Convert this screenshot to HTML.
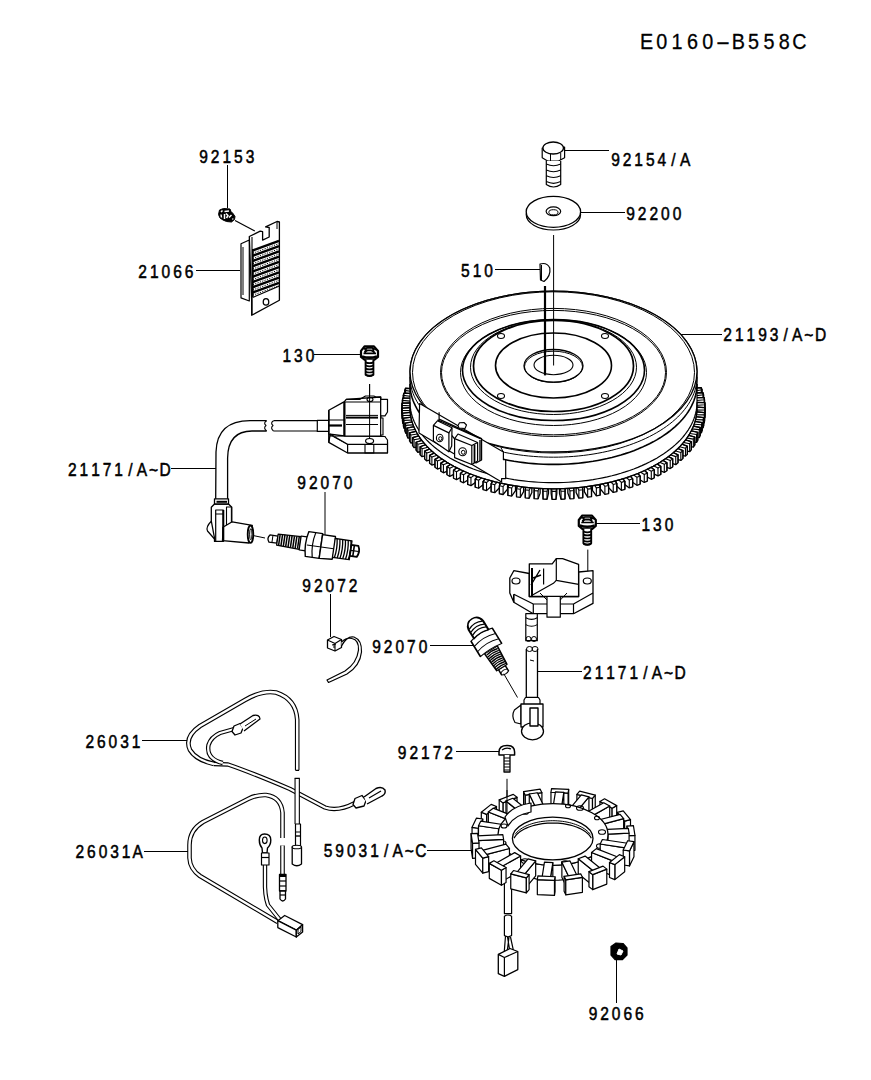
<!DOCTYPE html>
<html><head><meta charset="utf-8"><style>
html,body{margin:0;padding:0;background:#fff;width:871px;height:1080px;overflow:hidden}
svg{position:absolute;left:0;top:0}
text{font-family:"Liberation Sans",sans-serif;fill:#000}
</style></head><body>
<svg width="871" height="1080" viewBox="0 0 871 1080" stroke="#000" fill="none" stroke-linejoin="round" stroke-linecap="butt">
<g stroke="none">
</g>
<text transform="scale(0.92,1)" x="702.72 719.35 735.98 752.61 769.24 785.87 802.50 819.13 835.76 852.39 869.02" y="48.8" font-size="21.5" text-anchor="middle" stroke="#000" stroke-width="0.3">E0160–B558C</text>
<text transform="scale(0.84,1)" x="242.38 256.19 270.00 283.81 297.62" y="163" font-size="18.5" text-anchor="middle" stroke="#000" stroke-width="0.55">92153</text>
<text transform="scale(0.84,1)" x="732.74 746.55 760.36 774.17 787.98 801.79 815.60" y="165.7" font-size="18.5" text-anchor="middle" stroke="#000" stroke-width="0.55">92154/A</text>
<text transform="scale(0.84,1)" x="750.71 764.52 778.33 792.14 805.95" y="220" font-size="18.5" text-anchor="middle" stroke="#000" stroke-width="0.55">92200</text>
<text transform="scale(0.84,1)" x="169.88 183.69 197.50 211.31 225.12" y="278" font-size="18.5" text-anchor="middle" stroke="#000" stroke-width="0.55">21066</text>
<text transform="scale(0.84,1)" x="554.05 567.86 581.67" y="276.8" font-size="18.5" text-anchor="middle" stroke="#000" stroke-width="0.55">510</text>
<text transform="scale(0.84,1)" x="866.31 880.12 893.93 907.74 921.55 935.36 949.17 962.98 976.79" y="341.5" font-size="18.5" text-anchor="middle" stroke="#000" stroke-width="0.55">21193/A~D</text>
<text transform="scale(0.84,1)" x="341.43 355.24 369.05" y="362" font-size="18.5" text-anchor="middle" stroke="#000" stroke-width="0.55">130</text>
<text transform="scale(0.84,1)" x="86.07 99.88 113.69 127.50 141.31 155.12 168.93 182.74 196.55" y="475.8" font-size="18.5" text-anchor="middle" stroke="#000" stroke-width="0.55">21171/A~D</text>
<text transform="scale(0.84,1)" x="359.17 372.98 386.79 400.60 414.40" y="489" font-size="18.5" text-anchor="middle" stroke="#000" stroke-width="0.55">92070</text>
<text transform="scale(0.84,1)" x="768.81 782.62 796.43" y="531" font-size="18.5" text-anchor="middle" stroke="#000" stroke-width="0.55">130</text>
<text transform="scale(0.84,1)" x="365.12 378.93 392.74 406.55 420.36" y="592" font-size="18.5" text-anchor="middle" stroke="#000" stroke-width="0.55">92072</text>
<text transform="scale(0.84,1)" x="448.33 462.14 475.95 489.76 503.57" y="653" font-size="18.5" text-anchor="middle" stroke="#000" stroke-width="0.55">92070</text>
<text transform="scale(0.84,1)" x="699.29 713.10 726.90 740.71 754.52 768.33 782.14 795.95 809.76" y="679" font-size="18.5" text-anchor="middle" stroke="#000" stroke-width="0.55">21171/A~D</text>
<text transform="scale(0.84,1)" x="106.79 120.60 134.40 148.21 162.02" y="747.6" font-size="18.5" text-anchor="middle" stroke="#000" stroke-width="0.55">26031</text>
<text transform="scale(0.84,1)" x="478.81 492.62 506.43 520.24 534.05" y="758.7" font-size="18.5" text-anchor="middle" stroke="#000" stroke-width="0.55">92172</text>
<text transform="scale(0.84,1)" x="95.00 108.81 122.62 136.43 150.24 164.05" y="858.5" font-size="18.5" text-anchor="middle" stroke="#000" stroke-width="0.55">26031A</text>
<text transform="scale(0.84,1)" x="390.60 404.40 418.21 432.02 445.83 459.64 473.45 487.26 501.07" y="857.2" font-size="18.5" text-anchor="middle" stroke="#000" stroke-width="0.55">59031/A~C</text>
<text transform="scale(0.84,1)" x="705.95 719.76 733.57 747.38 761.19" y="1019.7" font-size="18.5" text-anchor="middle" stroke="#000" stroke-width="0.55">92066</text>
<line x1="227.5" y1="165" x2="227.5" y2="208" stroke-width="1"/>
<line x1="609" y1="150.5" x2="565" y2="150.5" stroke-width="1"/>
<line x1="625" y1="212.5" x2="580" y2="212.5" stroke-width="1"/>
<line x1="196" y1="270.5" x2="240" y2="270.5" stroke-width="1"/>
<line x1="495" y1="269.5" x2="540" y2="269.5" stroke-width="1"/>
<line x1="722" y1="334.5" x2="677" y2="334.5" stroke-width="1"/>
<line x1="314" y1="354.5" x2="362" y2="354.5" stroke-width="1"/>
<line x1="171" y1="468.5" x2="216" y2="468.5" stroke-width="1"/>
<line x1="325" y1="492" x2="325" y2="536" stroke-width="1"/>
<line x1="640" y1="523.5" x2="595" y2="523.5" stroke-width="1"/>
<line x1="330.5" y1="594" x2="330.5" y2="637" stroke-width="1"/>
<line x1="430" y1="645.5" x2="475" y2="645.5" stroke-width="1"/>
<line x1="582" y1="671.5" x2="538" y2="671.5" stroke-width="1"/>
<line x1="142" y1="740.5" x2="187" y2="740.5" stroke-width="1"/>
<line x1="456" y1="751.5" x2="500" y2="751.5" stroke-width="1"/>
<line x1="144" y1="851.5" x2="189" y2="851.5" stroke-width="1"/>
<line x1="427" y1="850.5" x2="472" y2="850.5" stroke-width="1"/>
<line x1="616.5" y1="958" x2="616.5" y2="1003" stroke-width="1"/>
<polygon points="690.75,388.42 701.22,387.66 702.04,389.82 702.04,397.82 691.94,399.53 690.75,396.42" stroke-width="1.3" fill="#fff" />
<polyline points="690.75,388.42 701.22,387.66 702.04,389.82 691.94,391.53" stroke-width="1.1" fill="none" />
<polyline points="701.22,387.66 701.22,395.66" stroke-width="1.1" fill="none" />
<polyline points="702.04,389.82 702.04,397.82" stroke-width="1.1" fill="none" />
<polygon points="404.75,390.40 405.55,388.23 416.03,388.95 416.03,396.95 414.88,400.06 404.75,398.40" stroke-width="1.3" fill="#fff" />
<polyline points="414.88,392.06 404.75,390.40 405.55,388.23 416.03,388.95" stroke-width="1.1" fill="none" />
<polyline points="404.75,390.40 404.75,398.40" stroke-width="1.1" fill="none" />
<polyline points="405.55,388.23 405.55,396.23" stroke-width="1.1" fill="none" />
<polygon points="692.42,393.00 702.95,392.59 703.55,394.78 703.55,402.78 693.28,404.15 692.42,401.00" stroke-width="1.3" fill="#fff" />
<polyline points="692.42,393.00 702.95,392.59 703.55,394.78 693.28,396.15" stroke-width="1.1" fill="none" />
<polyline points="702.95,392.59 702.95,400.59" stroke-width="1.1" fill="none" />
<polyline points="703.55,394.78 703.55,402.78" stroke-width="1.1" fill="none" />
<polygon points="403.31,395.36 403.88,393.17 414.41,393.54 414.41,401.54 413.59,404.69 403.31,403.36" stroke-width="1.3" fill="#fff" />
<polyline points="413.59,396.69 403.31,395.36 403.88,393.17 414.41,393.54" stroke-width="1.1" fill="none" />
<polyline points="403.31,395.36 403.31,403.36" stroke-width="1.1" fill="none" />
<polyline points="403.88,393.17 403.88,401.17" stroke-width="1.1" fill="none" />
<polygon points="693.61,397.63 704.16,397.57 704.52,399.78 704.52,407.78 694.13,408.80 693.61,405.63" stroke-width="1.3" fill="#fff" />
<polyline points="693.61,397.63 704.16,397.57 704.52,399.78 694.13,400.80" stroke-width="1.1" fill="none" />
<polyline points="704.16,397.57 704.16,405.57" stroke-width="1.1" fill="none" />
<polyline points="704.52,399.78 704.52,407.78" stroke-width="1.1" fill="none" />
<polygon points="402.40,400.36 402.73,398.16 413.29,398.18 413.29,406.18 412.80,409.35 402.40,408.36" stroke-width="1.3" fill="#fff" />
<polyline points="412.80,401.35 402.40,400.36 402.73,398.16 413.29,398.18" stroke-width="1.1" fill="none" />
<polyline points="402.40,400.36 402.40,408.36" stroke-width="1.1" fill="none" />
<polyline points="402.73,398.16 402.73,406.16" stroke-width="1.1" fill="none" />
<polygon points="694.30,402.30 704.84,402.59 704.97,404.80 704.97,412.80 694.49,413.48 694.30,410.30" stroke-width="1.3" fill="#fff" />
<polyline points="694.30,402.30 704.84,402.59 704.97,404.80 694.49,405.48" stroke-width="1.1" fill="none" />
<polyline points="704.84,402.59 704.84,410.59" stroke-width="1.1" fill="none" />
<polyline points="704.97,404.80 704.97,412.80" stroke-width="1.1" fill="none" />
<polygon points="402.01,405.39 402.12,403.17 412.65,402.84 412.65,410.84 412.50,414.02 402.01,413.39" stroke-width="1.3" fill="#fff" />
<polyline points="412.50,406.02 402.01,405.39 402.12,403.17 412.65,402.84" stroke-width="1.1" fill="none" />
<polyline points="402.01,405.39 402.01,413.39" stroke-width="1.1" fill="none" />
<polyline points="402.12,403.17 402.12,411.17" stroke-width="1.1" fill="none" />
<polygon points="694.35,410.16 694.50,406.98 704.99,407.61 704.99,415.61 704.88,417.83 694.35,418.16" stroke-width="1.3" fill="#fff" />
<polyline points="694.50,406.98 704.99,407.61 704.88,409.83 694.35,410.16" stroke-width="1.1" fill="none" />
<polyline points="704.99,407.61 704.99,415.61" stroke-width="1.1" fill="none" />
<polyline points="704.88,409.83 704.88,417.83" stroke-width="1.1" fill="none" />
<polygon points="402.03,408.20 412.51,407.52 412.70,410.70 412.70,418.70 402.16,418.41 402.03,416.20" stroke-width="1.3" fill="#fff" />
<polyline points="412.70,410.70 402.16,410.41 402.03,408.20 412.51,407.52" stroke-width="1.1" fill="none" />
<polyline points="402.16,410.41 402.16,418.41" stroke-width="1.1" fill="none" />
<polyline points="402.03,408.20 402.03,416.20" stroke-width="1.1" fill="none" />
<polygon points="693.71,414.82 694.20,411.65 704.60,412.64 704.60,420.64 704.27,422.84 693.71,422.82" stroke-width="1.3" fill="#fff" />
<polyline points="694.20,411.65 704.60,412.64 704.27,414.84 693.71,414.82" stroke-width="1.1" fill="none" />
<polyline points="704.60,412.64 704.60,420.64" stroke-width="1.1" fill="none" />
<polyline points="704.27,414.84 704.27,422.84" stroke-width="1.1" fill="none" />
<polygon points="402.48,413.22 412.87,412.20 413.39,415.37 413.39,423.37 402.84,423.43 402.48,421.22" stroke-width="1.3" fill="#fff" />
<polyline points="413.39,415.37 402.84,415.43 402.48,413.22 412.87,412.20" stroke-width="1.1" fill="none" />
<polyline points="402.84,415.43 402.84,423.43" stroke-width="1.1" fill="none" />
<polyline points="402.48,413.22 402.48,421.22" stroke-width="1.1" fill="none" />
<polygon points="692.59,419.46 693.41,416.31 703.69,417.64 703.69,425.64 703.12,427.83 692.59,427.46" stroke-width="1.3" fill="#fff" />
<polyline points="693.41,416.31 703.69,417.64 703.12,419.83 692.59,419.46" stroke-width="1.1" fill="none" />
<polyline points="703.69,417.64 703.69,425.64" stroke-width="1.1" fill="none" />
<polyline points="703.12,419.83 703.12,427.83" stroke-width="1.1" fill="none" />
<polygon points="403.45,418.22 413.72,416.85 414.58,420.00 414.58,428.00 404.05,428.41 403.45,426.22" stroke-width="1.3" fill="#fff" />
<polyline points="414.58,420.00 404.05,420.41 403.45,418.22 413.72,416.85" stroke-width="1.1" fill="none" />
<polyline points="404.05,420.41 404.05,428.41" stroke-width="1.1" fill="none" />
<polyline points="403.45,418.22 403.45,426.22" stroke-width="1.1" fill="none" />
<polygon points="690.97,424.05 692.12,420.94 702.25,422.60 702.25,430.60 701.45,432.77 690.97,432.05" stroke-width="1.3" fill="#fff" />
<polyline points="692.12,420.94 702.25,422.60 701.45,424.77 690.97,424.05" stroke-width="1.1" fill="none" />
<polyline points="702.25,422.60 702.25,430.60" stroke-width="1.1" fill="none" />
<polyline points="701.45,424.77 701.45,432.77" stroke-width="1.1" fill="none" />
<polygon points="404.96,423.18 415.06,421.47 416.25,424.58 416.25,432.58 405.78,433.34 404.96,431.18" stroke-width="1.3" fill="#fff" />
<polyline points="416.25,424.58 405.78,425.34 404.96,423.18 415.06,421.47" stroke-width="1.1" fill="none" />
<polyline points="405.78,425.34 405.78,433.34" stroke-width="1.1" fill="none" />
<polyline points="404.96,423.18 404.96,431.18" stroke-width="1.1" fill="none" />
<polygon points="688.87,428.58 690.35,425.51 700.28,427.51 700.28,435.51 699.25,437.65 688.87,436.58" stroke-width="1.3" fill="#fff" />
<polyline points="690.35,425.51 700.28,427.51 699.25,429.65 688.87,428.58" stroke-width="1.1" fill="none" />
<polyline points="700.28,427.51 700.28,435.51" stroke-width="1.1" fill="none" />
<polyline points="699.25,429.65 699.25,437.65" stroke-width="1.1" fill="none" />
<polygon points="406.98,428.08 416.88,426.04 418.40,429.11 418.40,437.11 408.04,438.21 406.98,436.08" stroke-width="1.3" fill="#fff" />
<polyline points="418.40,429.11 408.04,430.21 406.98,428.08 416.88,426.04" stroke-width="1.1" fill="none" />
<polyline points="408.04,430.21 408.04,438.21" stroke-width="1.1" fill="none" />
<polyline points="406.98,428.08 406.98,436.08" stroke-width="1.1" fill="none" />
<polygon points="686.30,433.03 688.10,430.02 697.80,432.34 697.80,440.34 696.55,442.44 686.30,441.03" stroke-width="1.3" fill="#fff" />
<polyline points="688.10,430.02 697.80,432.34 696.55,434.44 686.30,433.03" stroke-width="1.1" fill="none" />
<polyline points="697.80,432.34 697.80,440.34" stroke-width="1.1" fill="none" />
<polyline points="696.55,434.44 696.55,442.44" stroke-width="1.1" fill="none" />
<polygon points="409.52,432.90 419.19,430.54 421.03,433.55 421.03,441.55 410.80,442.99 409.52,440.90" stroke-width="1.3" fill="#fff" />
<polyline points="421.03,433.55 410.80,434.99 409.52,432.90 419.19,430.54" stroke-width="1.1" fill="none" />
<polyline points="410.80,434.99 410.80,442.99" stroke-width="1.1" fill="none" />
<polyline points="409.52,432.90 409.52,440.90" stroke-width="1.1" fill="none" />
<polygon points="683.26,437.39 685.38,434.44 694.81,437.08 694.81,445.08 693.34,447.14 683.26,445.39" stroke-width="1.3" fill="#fff" />
<polyline points="685.38,434.44 694.81,437.08 693.34,439.14 683.26,437.39" stroke-width="1.1" fill="none" />
<polyline points="694.81,437.08 694.81,445.08" stroke-width="1.1" fill="none" />
<polyline points="693.34,439.14 693.34,447.14" stroke-width="1.1" fill="none" />
<polygon points="412.57,437.63 421.97,434.95 424.12,437.89 424.12,445.89 414.06,447.68 412.57,445.63" stroke-width="1.3" fill="#fff" />
<polyline points="424.12,437.89 414.06,439.68 412.57,437.63 421.97,434.95" stroke-width="1.1" fill="none" />
<polyline points="414.06,439.68 414.06,447.68" stroke-width="1.1" fill="none" />
<polyline points="412.57,437.63 412.57,445.63" stroke-width="1.1" fill="none" />
<polygon points="679.76,441.64 682.19,438.77 691.33,441.72 691.33,449.72 689.64,451.72 679.76,449.64" stroke-width="1.3" fill="#fff" />
<polyline points="682.19,438.77 691.33,441.72 689.64,443.72 679.76,441.64" stroke-width="1.1" fill="none" />
<polyline points="691.33,441.72 691.33,449.72" stroke-width="1.1" fill="none" />
<polyline points="689.64,443.72 689.64,451.72" stroke-width="1.1" fill="none" />
<polygon points="416.11,442.25 425.21,439.26 427.67,442.13 427.67,450.13 417.82,452.25 416.11,450.25" stroke-width="1.3" fill="#fff" />
<polyline points="427.67,442.13 417.82,444.25 416.11,442.25 425.21,439.26" stroke-width="1.1" fill="none" />
<polyline points="417.82,444.25 417.82,452.25" stroke-width="1.1" fill="none" />
<polyline points="416.11,442.25 416.11,450.25" stroke-width="1.1" fill="none" />
<polygon points="675.82,445.77 678.55,442.98 687.36,446.23 687.36,454.23 685.47,456.17 675.82,453.77" stroke-width="1.3" fill="#fff" />
<polyline points="678.55,442.98 687.36,446.23 685.47,448.17 675.82,445.77" stroke-width="1.1" fill="none" />
<polyline points="687.36,446.23 687.36,454.23" stroke-width="1.1" fill="none" />
<polyline points="685.47,448.17 685.47,456.17" stroke-width="1.1" fill="none" />
<polygon points="420.13,446.75 428.90,443.46 431.66,446.24 431.66,454.24 422.05,456.68 420.13,454.75" stroke-width="1.3" fill="#fff" />
<polyline points="431.66,446.24 422.05,448.68 420.13,446.75 428.90,443.46" stroke-width="1.1" fill="none" />
<polyline points="422.05,448.68 422.05,456.68" stroke-width="1.1" fill="none" />
<polyline points="420.13,446.75 420.13,454.75" stroke-width="1.1" fill="none" />
<polygon points="671.46,449.76 674.47,447.06 682.92,450.60 682.92,458.60 680.83,460.47 671.46,457.76" stroke-width="1.3" fill="#fff" />
<polyline points="674.47,447.06 682.92,450.60 680.83,452.47 671.46,449.76" stroke-width="1.1" fill="none" />
<polyline points="682.92,450.60 682.92,458.60" stroke-width="1.1" fill="none" />
<polyline points="680.83,452.47 680.83,460.47" stroke-width="1.1" fill="none" />
<polygon points="424.62,451.10 433.03,447.53 436.08,450.22 436.08,458.22 426.74,460.97 424.62,459.10" stroke-width="1.3" fill="#fff" />
<polyline points="436.08,450.22 426.74,452.97 424.62,451.10 433.03,447.53" stroke-width="1.1" fill="none" />
<polyline points="426.74,452.97 426.74,460.97" stroke-width="1.1" fill="none" />
<polyline points="424.62,451.10 424.62,459.10" stroke-width="1.1" fill="none" />
<polygon points="666.67,453.60 669.97,451.00 678.03,454.82 678.03,462.82 675.74,464.62 666.67,461.60" stroke-width="1.3" fill="#fff" />
<polyline points="669.97,451.00 678.03,454.82 675.74,456.62 666.67,453.60" stroke-width="1.1" fill="none" />
<polyline points="678.03,454.82 678.03,462.82" stroke-width="1.1" fill="none" />
<polyline points="675.74,456.62 675.74,464.62" stroke-width="1.1" fill="none" />
<polygon points="429.57,455.30 437.58,451.45 440.91,454.03 440.91,462.03 431.88,465.09 429.57,463.30" stroke-width="1.3" fill="#fff" />
<polyline points="440.91,454.03 431.88,457.09 429.57,455.30 437.58,451.45" stroke-width="1.1" fill="none" />
<polyline points="431.88,457.09 431.88,465.09" stroke-width="1.1" fill="none" />
<polyline points="429.57,455.30 429.57,463.30" stroke-width="1.1" fill="none" />
<polygon points="661.49,457.27 665.06,454.79 672.70,458.86 672.70,466.86 670.22,468.59 661.49,465.27" stroke-width="1.3" fill="#fff" />
<polyline points="665.06,454.79 672.70,458.86 670.22,460.59 661.49,457.27" stroke-width="1.1" fill="none" />
<polyline points="672.70,458.86 672.70,466.86" stroke-width="1.1" fill="none" />
<polyline points="670.22,460.59 670.22,468.59" stroke-width="1.1" fill="none" />
<polygon points="434.95,459.32 442.54,455.22 446.14,457.69 446.14,465.69 437.45,469.04 434.95,467.32" stroke-width="1.3" fill="#fff" />
<polyline points="446.14,457.69 437.45,461.04 434.95,459.32 442.54,455.22" stroke-width="1.1" fill="none" />
<polyline points="437.45,461.04 437.45,469.04" stroke-width="1.1" fill="none" />
<polyline points="434.95,459.32 434.95,467.32" stroke-width="1.1" fill="none" />
<polygon points="655.93,460.76 659.75,458.41 666.95,462.73 666.95,470.73 664.30,472.36 655.93,468.76" stroke-width="1.3" fill="#fff" />
<polyline points="659.75,458.41 666.95,462.73 664.30,464.36 655.93,460.76" stroke-width="1.1" fill="none" />
<polyline points="666.95,462.73 666.95,470.73" stroke-width="1.1" fill="none" />
<polyline points="664.30,464.36 664.30,472.36" stroke-width="1.1" fill="none" />
<polygon points="440.74,463.16 447.89,458.82 451.74,461.16 451.74,469.16 443.42,472.79 440.74,471.16" stroke-width="1.3" fill="#fff" />
<polyline points="451.74,461.16 443.42,464.79 440.74,463.16 447.89,458.82" stroke-width="1.1" fill="none" />
<polyline points="443.42,464.79 443.42,472.79" stroke-width="1.1" fill="none" />
<polyline points="440.74,463.16 440.74,471.16" stroke-width="1.1" fill="none" />
<polygon points="650.01,464.06 654.07,461.84 660.81,466.39 660.81,474.39 657.98,475.94 650.01,472.06" stroke-width="1.3" fill="#fff" />
<polyline points="654.07,461.84 660.81,466.39 657.98,467.94 650.01,464.06" stroke-width="1.1" fill="none" />
<polyline points="660.81,466.39 660.81,474.39" stroke-width="1.1" fill="none" />
<polyline points="657.98,467.94 657.98,475.94" stroke-width="1.1" fill="none" />
<polygon points="446.94,466.80 453.61,462.23 457.70,464.44 457.70,472.44 449.78,476.34 446.94,474.80" stroke-width="1.3" fill="#fff" />
<polyline points="457.70,464.44 449.78,468.34 446.94,466.80 453.61,462.23" stroke-width="1.1" fill="none" />
<polyline points="449.78,468.34 449.78,476.34" stroke-width="1.1" fill="none" />
<polyline points="446.94,466.80 446.94,474.80" stroke-width="1.1" fill="none" />
<polygon points="643.75,467.17 648.04,465.08 654.28,469.84 654.28,477.84 651.30,479.30 643.75,475.17" stroke-width="1.3" fill="#fff" />
<polyline points="648.04,465.08 654.28,469.84 651.30,471.30 643.75,467.17" stroke-width="1.1" fill="none" />
<polyline points="654.28,469.84 654.28,477.84" stroke-width="1.1" fill="none" />
<polyline points="651.30,471.30 651.30,479.30" stroke-width="1.1" fill="none" />
<polygon points="453.50,470.23 459.68,465.44 464.00,467.51 464.00,475.51 456.50,479.67 453.50,478.23" stroke-width="1.3" fill="#fff" />
<polyline points="464.00,467.51 456.50,471.67 453.50,470.23 459.68,465.44" stroke-width="1.1" fill="none" />
<polyline points="456.50,471.67 456.50,479.67" stroke-width="1.1" fill="none" />
<polyline points="453.50,470.23 453.50,478.23" stroke-width="1.1" fill="none" />
<polygon points="637.18,470.05 641.68,468.11 647.40,473.08 647.40,481.08 644.27,482.43 637.18,478.05" stroke-width="1.3" fill="#fff" />
<polyline points="641.68,468.11 647.40,473.08 644.27,474.43 637.18,470.05" stroke-width="1.1" fill="none" />
<polyline points="647.40,473.08 647.40,481.08" stroke-width="1.1" fill="none" />
<polyline points="644.27,474.43 644.27,482.43" stroke-width="1.1" fill="none" />
<polygon points="460.42,473.44 466.08,468.45 470.61,470.38 470.61,478.38 463.57,482.78 460.42,481.44" stroke-width="1.3" fill="#fff" />
<polyline points="470.61,470.38 463.57,474.78 460.42,473.44 466.08,468.45" stroke-width="1.1" fill="none" />
<polyline points="463.57,474.78 463.57,482.78" stroke-width="1.1" fill="none" />
<polyline points="460.42,473.44 460.42,481.44" stroke-width="1.1" fill="none" />
<polygon points="630.31,472.72 635.01,470.93 640.20,476.08 640.20,484.08 636.93,485.32 630.31,480.72" stroke-width="1.3" fill="#fff" />
<polyline points="635.01,470.93 640.20,476.08 636.93,477.32 630.31,472.72" stroke-width="1.1" fill="none" />
<polyline points="640.20,476.08 640.20,484.08" stroke-width="1.1" fill="none" />
<polyline points="636.93,477.32 636.93,485.32" stroke-width="1.1" fill="none" />
<polygon points="467.66,476.41 472.79,471.24 477.51,473.01 477.51,481.01 470.95,485.64 467.66,484.41" stroke-width="1.3" fill="#fff" />
<polyline points="477.51,473.01 470.95,477.64 467.66,476.41 472.79,471.24" stroke-width="1.1" fill="none" />
<polyline points="470.95,477.64 470.95,485.64" stroke-width="1.1" fill="none" />
<polyline points="467.66,476.41 467.66,484.41" stroke-width="1.1" fill="none" />
<polygon points="623.17,475.15 628.05,473.52 632.68,478.83 632.68,486.83 629.29,487.96 623.17,483.15" stroke-width="1.3" fill="#fff" />
<polyline points="628.05,473.52 632.68,478.83 629.29,479.96 623.17,475.15" stroke-width="1.1" fill="none" />
<polyline points="632.68,478.83 632.68,486.83" stroke-width="1.1" fill="none" />
<polyline points="629.29,479.96 629.29,487.96" stroke-width="1.1" fill="none" />
<polygon points="475.21,479.13 479.78,473.81 484.68,475.42 484.68,483.42 478.62,488.25 475.21,487.13" stroke-width="1.3" fill="#fff" />
<polyline points="484.68,475.42 478.62,480.25 475.21,479.13 479.78,473.81" stroke-width="1.1" fill="none" />
<polyline points="478.62,480.25 478.62,488.25" stroke-width="1.1" fill="none" />
<polyline points="475.21,479.13 475.21,487.13" stroke-width="1.1" fill="none" />
<polygon points="615.78,477.34 620.83,475.88 624.89,481.33 624.89,489.33 621.38,490.35 615.78,485.34" stroke-width="1.3" fill="#fff" />
<polyline points="620.83,475.88 624.89,481.33 621.38,482.35 615.78,477.34" stroke-width="1.1" fill="none" />
<polyline points="624.89,481.33 624.89,489.33" stroke-width="1.1" fill="none" />
<polyline points="621.38,482.35 621.38,490.35" stroke-width="1.1" fill="none" />
<polygon points="483.03,481.60 487.03,476.14 492.09,477.58 492.09,485.58 486.55,490.61 483.03,489.60" stroke-width="1.3" fill="#fff" />
<polyline points="492.09,477.58 486.55,482.61 483.03,481.60 487.03,476.14" stroke-width="1.1" fill="none" />
<polyline points="486.55,482.61 486.55,490.61" stroke-width="1.1" fill="none" />
<polyline points="483.03,481.60 483.03,489.60" stroke-width="1.1" fill="none" />
<polygon points="608.18,479.28 613.37,477.99 616.85,483.57 616.85,491.57 613.24,492.47 608.18,487.28" stroke-width="1.3" fill="#fff" />
<polyline points="613.37,477.99 616.85,483.57 613.24,484.47 608.18,479.28" stroke-width="1.1" fill="none" />
<polyline points="616.85,483.57 616.85,491.57" stroke-width="1.1" fill="none" />
<polyline points="613.24,484.47 613.24,492.47" stroke-width="1.1" fill="none" />
<polygon points="491.10,483.81 494.51,478.22 499.72,479.49 499.72,487.49 494.72,492.69 491.10,491.81" stroke-width="1.3" fill="#fff" />
<polyline points="499.72,479.49 494.72,484.69 491.10,483.81 494.51,478.22" stroke-width="1.1" fill="none" />
<polyline points="494.72,484.69 494.72,492.69" stroke-width="1.1" fill="none" />
<polyline points="491.10,483.81 491.10,491.81" stroke-width="1.1" fill="none" />
<polygon points="600.38,480.97 605.70,479.85 608.59,485.53 608.59,493.53 604.89,494.31 600.38,488.97" stroke-width="1.3" fill="#fff" />
<polyline points="605.70,479.85 608.59,485.53 604.89,486.31 600.38,480.97" stroke-width="1.1" fill="none" />
<polyline points="608.59,485.53 608.59,493.53" stroke-width="1.1" fill="none" />
<polyline points="604.89,486.31 604.89,494.31" stroke-width="1.1" fill="none" />
<polygon points="499.39,485.74 502.20,480.05 507.54,481.15 507.54,489.15 503.10,494.51 499.39,493.74" stroke-width="1.3" fill="#fff" />
<polyline points="507.54,481.15 503.10,486.51 499.39,485.74 502.20,480.05" stroke-width="1.1" fill="none" />
<polyline points="503.10,486.51 503.10,494.51" stroke-width="1.1" fill="none" />
<polyline points="499.39,485.74 499.39,493.74" stroke-width="1.1" fill="none" />
<polygon points="592.42,482.39 597.85,481.45 600.13,487.22 600.13,495.22 596.36,495.87 592.42,490.39" stroke-width="1.3" fill="#fff" />
<polyline points="597.85,481.45 600.13,487.22 596.36,487.87 592.42,482.39" stroke-width="1.1" fill="none" />
<polyline points="600.13,487.22 600.13,495.22" stroke-width="1.1" fill="none" />
<polyline points="596.36,487.87 596.36,495.87" stroke-width="1.1" fill="none" />
<polygon points="507.87,487.40 510.07,481.62 515.52,482.54 515.52,490.54 511.65,496.04 507.87,495.40" stroke-width="1.3" fill="#fff" />
<polyline points="515.52,482.54 511.65,488.04 507.87,487.40 510.07,481.62" stroke-width="1.1" fill="none" />
<polyline points="511.65,488.04 511.65,496.04" stroke-width="1.1" fill="none" />
<polyline points="507.87,487.40 507.87,495.40" stroke-width="1.1" fill="none" />
<polygon points="584.33,483.55 589.85,482.79 591.51,488.63 591.51,496.63 587.67,497.15 584.33,491.55" stroke-width="1.3" fill="#fff" />
<polyline points="589.85,482.79 591.51,488.63 587.67,489.15 584.33,483.55" stroke-width="1.1" fill="none" />
<polyline points="591.51,488.63 591.51,496.63" stroke-width="1.1" fill="none" />
<polyline points="587.67,489.15 587.67,497.15" stroke-width="1.1" fill="none" />
<polygon points="516.51,488.77 518.10,482.93 523.63,483.67 523.63,491.67 520.35,497.28 516.51,496.77" stroke-width="1.3" fill="#fff" />
<polyline points="523.63,483.67 520.35,489.28 516.51,488.77 518.10,482.93" stroke-width="1.1" fill="none" />
<polyline points="520.35,489.28 520.35,497.28" stroke-width="1.1" fill="none" />
<polyline points="516.51,488.77 516.51,496.77" stroke-width="1.1" fill="none" />
<polygon points="576.12,484.44 581.71,483.86 582.76,489.74 582.76,497.74 578.87,498.14 576.12,492.44" stroke-width="1.3" fill="#fff" />
<polyline points="581.71,483.86 582.76,489.74 578.87,490.14 576.12,484.44" stroke-width="1.1" fill="none" />
<polyline points="582.76,489.74 582.76,497.74" stroke-width="1.1" fill="none" />
<polyline points="578.87,490.14 578.87,498.14" stroke-width="1.1" fill="none" />
<polygon points="525.27,489.85 526.25,483.97 531.84,484.52 531.84,492.52 529.16,498.24 525.27,497.85" stroke-width="1.3" fill="#fff" />
<polyline points="531.84,484.52 529.16,490.24 525.27,489.85 526.25,483.97" stroke-width="1.1" fill="none" />
<polyline points="529.16,490.24 529.16,498.24" stroke-width="1.1" fill="none" />
<polyline points="525.27,489.85 525.27,497.85" stroke-width="1.1" fill="none" />
<polygon points="567.84,485.05 573.48,484.66 573.90,490.57 573.90,498.57 569.98,498.84 567.84,493.05" stroke-width="1.3" fill="#fff" />
<polyline points="573.48,484.66 573.90,490.57 569.98,490.84 567.84,485.05" stroke-width="1.1" fill="none" />
<polyline points="573.90,490.57 573.90,498.57" stroke-width="1.1" fill="none" />
<polyline points="569.98,490.84 569.98,498.84" stroke-width="1.1" fill="none" />
<polygon points="534.14,490.64 534.49,484.74 540.13,485.10 540.13,493.10 538.07,498.90 534.14,498.64" stroke-width="1.3" fill="#fff" />
<polyline points="540.13,485.10 538.07,490.90 534.14,490.64 534.49,484.74" stroke-width="1.1" fill="none" />
<polyline points="538.07,490.90 538.07,498.90" stroke-width="1.1" fill="none" />
<polyline points="534.14,490.64 534.14,498.64" stroke-width="1.1" fill="none" />
<polygon points="559.50,485.39 565.17,485.19 565.17,493.19 564.97,499.10 561.03,499.24 559.50,493.39" stroke-width="1.3" fill="#fff" />
<polyline points="565.17,485.19 564.97,491.10 561.03,491.24 559.50,485.39" stroke-width="1.1" fill="none" />
<polyline points="564.97,491.10 564.97,499.10" stroke-width="1.1" fill="none" />
<polyline points="561.03,491.24 561.03,499.24" stroke-width="1.1" fill="none" />
<polygon points="542.80,485.23 548.47,485.41 548.47,493.41 547.02,499.26 543.08,499.14 542.80,493.23" stroke-width="1.3" fill="#fff" />
<polyline points="548.47,485.41 547.02,491.26 543.08,491.14 542.80,485.23" stroke-width="1.1" fill="none" />
<polyline points="547.02,491.26 547.02,499.26" stroke-width="1.1" fill="none" />
<polyline points="543.08,491.14 543.08,499.14" stroke-width="1.1" fill="none" />
<polygon points="551.15,485.45 556.83,485.44 556.83,493.44 556.00,499.33 552.05,499.34 551.15,493.45" stroke-width="1.3" fill="#fff" />
<polyline points="556.83,485.44 556.00,491.33 552.05,491.34 551.15,485.45" stroke-width="1.1" fill="none" />
<polyline points="556.00,491.33 556.00,499.33" stroke-width="1.1" fill="none" />
<polyline points="552.05,491.34 552.05,499.34" stroke-width="1.1" fill="none" />
<polygon points="410.00,371.60 410.09,368.79 410.35,365.99 410.79,363.20 411.40,360.41 412.18,357.64 413.14,354.88 414.26,352.15 415.56,349.44 417.02,346.76 418.65,344.10 420.45,341.48 422.41,338.90 424.52,336.35 426.80,333.85 429.23,331.40 431.81,328.99 434.53,326.64 437.41,324.34 440.42,322.10 443.57,319.92 446.86,317.80 450.27,315.75 453.82,313.77 457.48,311.85 461.26,310.01 465.15,308.24 469.15,306.56 473.26,304.95 477.46,303.42 481.75,301.97 486.13,300.61 490.59,299.34 495.13,298.15 499.74,297.05 504.42,296.05 509.16,295.14 513.95,294.31 518.78,293.59 523.66,292.96 528.58,292.42 533.53,291.98 538.50,291.64 543.49,291.40 548.49,291.25 553.50,291.20 558.51,291.25 563.51,291.40 568.50,291.64 573.47,291.98 578.42,292.42 583.34,292.96 588.22,293.59 593.05,294.31 597.84,295.14 602.58,296.05 607.26,297.05 611.87,298.15 616.41,299.34 620.87,300.61 625.25,301.97 629.54,303.42 633.74,304.95 637.85,306.56 641.85,308.24 645.74,310.01 649.52,311.85 653.18,313.77 656.73,315.75 660.14,317.80 663.43,319.92 666.58,322.10 669.59,324.34 672.47,326.64 675.19,328.99 677.77,331.40 680.20,333.85 682.48,336.35 684.59,338.90 686.55,341.48 688.35,344.10 689.98,346.76 691.44,349.44 692.74,352.15 693.86,354.88 694.82,357.64 695.60,360.41 696.21,363.20 696.65,365.99 696.91,368.79 697.00,371.60 697.00,408.40 696.91,411.21 696.65,414.01 696.21,416.80 695.60,419.59 694.82,422.36 693.86,425.12 692.74,427.85 691.44,430.56 689.98,433.24 688.35,435.90 686.55,438.52 684.59,441.10 682.48,443.65 680.20,446.15 677.77,448.60 675.19,451.01 672.47,453.36 669.59,455.66 666.58,457.90 663.43,460.08 660.14,462.20 656.73,464.25 653.18,466.23 649.52,468.15 645.74,469.99 641.85,471.76 637.85,473.44 633.74,475.05 629.54,476.58 625.25,478.03 620.87,479.39 616.41,480.66 611.87,481.85 607.26,482.95 602.58,483.95 597.84,484.86 593.05,485.69 588.22,486.41 583.34,487.04 578.42,487.58 573.47,488.02 568.50,488.36 563.51,488.60 558.51,488.75 553.50,488.80 548.49,488.75 543.49,488.60 538.50,488.36 533.53,488.02 528.58,487.58 523.66,487.04 518.78,486.41 513.95,485.69 509.16,484.86 504.42,483.95 499.74,482.95 495.13,481.85 490.59,480.66 486.13,479.39 481.75,478.03 477.46,476.58 473.26,475.05 469.15,473.44 465.15,471.76 461.26,469.99 457.48,468.15 453.82,466.23 450.27,464.25 446.86,462.20 443.57,460.08 440.42,457.90 437.41,455.66 434.53,453.36 431.81,451.01 429.23,448.60 426.80,446.15 424.52,443.65 422.41,441.10 420.45,438.52 418.65,435.90 417.02,433.24 415.56,430.56 414.26,427.85 413.14,425.12 412.18,422.36 411.40,419.59 410.79,416.80 410.35,414.01 410.09,411.21 410.00,408.40" stroke-width="1.2" fill="#fff" />
<polyline points="697.00,376.80 696.91,379.61 696.65,382.41 696.21,385.20 695.60,387.99 694.82,390.76 693.86,393.52 692.74,396.25 691.44,398.96 689.98,401.64 688.35,404.30 686.55,406.92 684.59,409.50 682.48,412.05 680.20,414.55 677.77,417.00 675.19,419.41 672.47,421.76 669.59,424.06 666.58,426.30 663.43,428.48 660.14,430.60 656.73,432.65 653.18,434.63 649.52,436.55 645.74,438.39 641.85,440.16 637.85,441.84 633.74,443.45 629.54,444.98 625.25,446.43 620.87,447.79 616.41,449.06 611.87,450.25 607.26,451.35 602.58,452.35 597.84,453.26 593.05,454.09 588.22,454.81 583.34,455.44 578.42,455.98 573.47,456.42 568.50,456.76 563.51,457.00 558.51,457.15 553.50,457.20 548.49,457.15 543.49,457.00 538.50,456.76 533.53,456.42 528.58,455.98 523.66,455.44 518.78,454.81 513.95,454.09 509.16,453.26 504.42,452.35 499.74,451.35 495.13,450.25 490.59,449.06 486.13,447.79 481.75,446.43 477.46,444.98 473.26,443.45 469.15,441.84 465.15,440.16 461.26,438.39 457.48,436.55 453.82,434.63 450.27,432.65 446.86,430.60 443.57,428.48 440.42,426.30 437.41,424.06 434.53,421.76 431.81,419.41 429.23,417.00 426.80,414.55 424.52,412.05 422.41,409.50 420.45,406.92 418.65,404.30 417.02,401.64 415.56,398.96 414.26,396.25 413.14,393.52 412.18,390.76 411.40,387.99 410.79,385.20 410.35,382.41 410.09,379.61 410.00,376.80" stroke-width="1" fill="none" />
<polyline points="697.00,384.00 696.91,386.81 696.65,389.61 696.21,392.40 695.60,395.19 694.82,397.96 693.86,400.72 692.74,403.45 691.44,406.16 689.98,408.84 688.35,411.50 686.55,414.12 684.59,416.70 682.48,419.25 680.20,421.75 677.77,424.20 675.19,426.61 672.47,428.96 669.59,431.26 666.58,433.50 663.43,435.68 660.14,437.80 656.73,439.85 653.18,441.83 649.52,443.75 645.74,445.59 641.85,447.36 637.85,449.04 633.74,450.65 629.54,452.18 625.25,453.63 620.87,454.99 616.41,456.26 611.87,457.45 607.26,458.55 602.58,459.55 597.84,460.46 593.05,461.29 588.22,462.01 583.34,462.64 578.42,463.18 573.47,463.62 568.50,463.96 563.51,464.20 558.51,464.35 553.50,464.40 548.49,464.35 543.49,464.20 538.50,463.96 533.53,463.62 528.58,463.18 523.66,462.64 518.78,462.01 513.95,461.29 509.16,460.46 504.42,459.55 499.74,458.55 495.13,457.45 490.59,456.26 486.13,454.99 481.75,453.63 477.46,452.18 473.26,450.65 469.15,449.04 465.15,447.36 461.26,445.59 457.48,443.75 453.82,441.83 450.27,439.85 446.86,437.80 443.57,435.68 440.42,433.50 437.41,431.26 434.53,428.96 431.81,426.61 429.23,424.20 426.80,421.75 424.52,419.25 422.41,416.70 420.45,414.12 418.65,411.50 417.02,408.84 415.56,406.16 414.26,403.45 413.14,400.72 412.18,397.96 411.40,395.19 410.79,392.40 410.35,389.61 410.09,386.81 410.00,384.00" stroke-width="1.6" fill="none" />
<polyline points="697.00,402.30 696.91,405.11 696.65,407.91 696.21,410.70 695.60,413.49 694.82,416.26 693.86,419.02 692.74,421.75 691.44,424.46 689.98,427.14 688.35,429.80 686.55,432.42 684.59,435.00 682.48,437.55 680.20,440.05 677.77,442.50 675.19,444.91 672.47,447.26 669.59,449.56 666.58,451.80 663.43,453.98 660.14,456.10 656.73,458.15 653.18,460.13 649.52,462.05 645.74,463.89 641.85,465.66 637.85,467.34 633.74,468.95 629.54,470.48 625.25,471.93 620.87,473.29 616.41,474.56 611.87,475.75 607.26,476.85 602.58,477.85 597.84,478.76 593.05,479.59 588.22,480.31 583.34,480.94 578.42,481.48 573.47,481.92 568.50,482.26 563.51,482.50 558.51,482.65 553.50,482.70 548.49,482.65 543.49,482.50 538.50,482.26 533.53,481.92 528.58,481.48 523.66,480.94 518.78,480.31 513.95,479.59 509.16,478.76 504.42,477.85 499.74,476.85 495.13,475.75 490.59,474.56 486.13,473.29 481.75,471.93 477.46,470.48 473.26,468.95 469.15,467.34 465.15,465.66 461.26,463.89 457.48,462.05 453.82,460.13 450.27,458.15 446.86,456.10 443.57,453.98 440.42,451.80 437.41,449.56 434.53,447.26 431.81,444.91 429.23,442.50 426.80,440.05 424.52,437.55 422.41,435.00 420.45,432.42 418.65,429.80 417.02,427.14 415.56,424.46 414.26,421.75 413.14,419.02 412.18,416.26 411.40,413.49 410.79,410.70 410.35,407.91 410.09,405.11 410.00,402.30" stroke-width="1.2" fill="none" />
<polyline points="697.00,408.40 696.91,411.21 696.65,414.01 696.21,416.80 695.60,419.59 694.82,422.36 693.86,425.12 692.74,427.85 691.44,430.56 689.98,433.24 688.35,435.90 686.55,438.52 684.59,441.10 682.48,443.65 680.20,446.15 677.77,448.60 675.19,451.01 672.47,453.36 669.59,455.66 666.58,457.90 663.43,460.08 660.14,462.20 656.73,464.25 653.18,466.23 649.52,468.15 645.74,469.99 641.85,471.76 637.85,473.44 633.74,475.05 629.54,476.58 625.25,478.03 620.87,479.39 616.41,480.66 611.87,481.85 607.26,482.95 602.58,483.95 597.84,484.86 593.05,485.69 588.22,486.41 583.34,487.04 578.42,487.58 573.47,488.02 568.50,488.36 563.51,488.60 558.51,488.75 553.50,488.80 548.49,488.75 543.49,488.60 538.50,488.36 533.53,488.02 528.58,487.58 523.66,487.04 518.78,486.41 513.95,485.69 509.16,484.86 504.42,483.95 499.74,482.95 495.13,481.85 490.59,480.66 486.13,479.39 481.75,478.03 477.46,476.58 473.26,475.05 469.15,473.44 465.15,471.76 461.26,469.99 457.48,468.15 453.82,466.23 450.27,464.25 446.86,462.20 443.57,460.08 440.42,457.90 437.41,455.66 434.53,453.36 431.81,451.01 429.23,448.60 426.80,446.15 424.52,443.65 422.41,441.10 420.45,438.52 418.65,435.90 417.02,433.24 415.56,430.56 414.26,427.85 413.14,425.12 412.18,422.36 411.40,419.59 410.79,416.80 410.35,414.01 410.09,411.21 410.00,408.40" stroke-width="1.2" fill="none" />
<ellipse cx="553.5" cy="371.6" rx="143.5" ry="80.4" stroke-width="1.3" fill="#fff"/>
<ellipse cx="553.5" cy="372.4" rx="141" ry="80.6" stroke-width="1" fill="none"/>
<ellipse cx="553.5" cy="372.4" rx="113" ry="64" stroke-width="1" fill="none"/>
<ellipse cx="553.5" cy="372.6" rx="112" ry="62.2" stroke-width="1" fill="none"/>
<ellipse cx="553.5" cy="372.5" rx="93" ry="53" stroke-width="1.0" fill="none"/>
<ellipse cx="553.5" cy="370.0" rx="91" ry="50.5" stroke-width="1.6" fill="none"/>
<ellipse cx="553.5" cy="367.25" rx="83" ry="47.25" stroke-width="1.0" fill="none"/>
<ellipse cx="553.5" cy="366.0" rx="80" ry="45.5" stroke-width="1.7" fill="none"/>
<ellipse cx="553.5" cy="365.5" rx="58" ry="32.5" stroke-width="1.6" fill="none"/>
<ellipse cx="553.5" cy="365.8" rx="29.5" ry="16.3" stroke-width="1.3" fill="none"/>
<ellipse cx="553.5" cy="366.8" rx="29.0" ry="15.6" stroke-width="1" fill="none"/>
<ellipse cx="553.5" cy="365.0" rx="19.5" ry="9.7" stroke-width="1.1" fill="none"/>
<ellipse cx="501" cy="336" rx="3.5" ry="2.5" stroke-width="1.1" fill="none"/>
<ellipse cx="605" cy="336" rx="3.5" ry="2.5" stroke-width="1.1" fill="none"/>
<ellipse cx="501" cy="396" rx="3.5" ry="2.5" stroke-width="1.1" fill="none"/>
<ellipse cx="605" cy="396" rx="3.5" ry="2.5" stroke-width="1.1" fill="none"/>
<line x1="553.6" y1="235" x2="553.6" y2="365.5" stroke-width="1"/>
<line x1="545" y1="286" x2="545" y2="375.4" stroke-width="2.2"/>
<polygon points="419.60,403.60 503.40,452.00 503.40,459.70 505.70,459.70 505.70,478.60 501.60,478.60 501.60,482.00 419.00,433.00" stroke-width="1.2" fill="#fff" />
<polyline points="501.00,447.80 503.40,452.00" stroke-width="1" fill="none" />
<polygon points="438.00,420.00 480.40,438.60 481.60,438.60 481.60,460.00 476.00,463.00" stroke-width="1.2" fill="#fff" />
<polyline points="439.10,412.20 439.10,419.10 481.60,438.60" stroke-width="1.2" fill="none" />
<path d="M458,425.5 L459.5,422.8 L464,422.5 L466.5,425 L465,428.5 L459,428 Z" stroke-width="1.1" fill="#fff" />
<polygon points="437.40,420.80 452.00,427.80 451.70,446.00 448.90,451.80 433.40,440.90 433.40,425.40" stroke-width="1.2" fill="#fff" />
<polyline points="433.40,425.40 448.90,432.90 452.00,427.80" stroke-width="1.2" fill="none" />
<polyline points="448.90,432.90 448.90,451.80" stroke-width="1.2" fill="none" />
<ellipse cx="439.7" cy="438" rx="3.3" ry="3.8" stroke-width="1.1" fill="none"/>
<ellipse cx="440.3" cy="438.6" rx="1.6" ry="1.9" stroke-width="1.0" fill="none"/>
<polygon points="458.00,434.00 477.60,442.50 477.60,461.00 471.80,464.50 454.60,457.60 454.60,438.60" stroke-width="1.2" fill="#fff" />
<polyline points="454.60,438.60 471.80,445.50 477.60,442.50" stroke-width="1.2" fill="none" />
<polyline points="471.80,445.50 471.80,464.50" stroke-width="1.2" fill="none" />
<polyline points="474.50,444.50 474.50,463.00" stroke-width="1.8" fill="none" />
<polyline points="480.00,440.00 480.00,461.00" stroke-width="1.4" fill="none" />
<ellipse cx="462.6" cy="451.8" rx="3.8" ry="4.0" stroke-width="1.1" fill="none"/>
<ellipse cx="463.2" cy="452.3" rx="1.8" ry="2.0" stroke-width="1.0" fill="none"/>
<path d="M542.2,148 L542.2,157.8 L548,161.2 L558,161.2 L564.6,157.8 L564.6,147 Z" stroke-width="1.2" fill="#fff" />
<ellipse cx="553.2" cy="148" rx="10.3" ry="6" stroke-width="1.3" fill="#fff"/>
<line x1="550.5" y1="154" x2="550.5" y2="161" stroke-width="1"/>
<line x1="560.7" y1="153" x2="560.7" y2="160" stroke-width="1"/>
<path d="M546.3,161 L546.3,184.5 Q553.5,189.5 560.7,184.5 L560.7,161" stroke-width="1.2" fill="#fff" />
<path d="M546.3,164 Q553.5,167.5 560.7,164" stroke-width="1.1" fill="none" />
<path d="M546.3,170 Q553.5,173.5 560.7,170" stroke-width="1.1" fill="none" />
<path d="M546.3,175.8 Q553.5,179.3 560.7,175.8" stroke-width="1.1" fill="none" />
<path d="M546.3,181.6 Q553.5,185.1 560.7,181.6" stroke-width="1.1" fill="none" />
<ellipse cx="553.4" cy="214.5" rx="27.2" ry="15.5" stroke-width="1.2" fill="#fff"/>
<ellipse cx="553.4" cy="211.8" rx="27.2" ry="15.5" stroke-width="1.3" fill="#fff"/>
<ellipse cx="553.4" cy="211.3" rx="7.3" ry="4.4" stroke-width="1.2" fill="none"/>
<ellipse cx="553.4" cy="212.3" rx="4.6" ry="2.6" stroke-width="1.0" fill="none"/>
<path d="M540,264 Q547,262 549.8,268 Q551,276 544,281.5 L540.5,280 Z" stroke-width="1.2" fill="#fff" />
<line x1="541.5" y1="265" x2="541.5" y2="280" stroke-width="1"/>
<path d="M219.5,210 L223.5,208.5 L230,209 L231,211.5 L233,213.5 L235,216.5 L234.5,219.5 L231.5,222 L226.5,221.5 L223,220 L220,218 L218.5,214.5 Z" stroke-width="1.0" fill="#000" />
<path d="M221,212 L222.5,210.5 M221,214.5 L221.5,217.5 M224.5,211.5 L229,211 M226,213.5 L228,215.5 L226.5,218 M229,217.5 L231.5,215 M232.5,218.5 L233,219.5 M224.5,214 L224.5,219" stroke-width="1.5" fill="none" stroke="#fff"/>
<line x1="235" y1="220.5" x2="254.8" y2="231" stroke-width="1.2"/>
<polygon points="241.00,243.70 249.30,240.00 249.30,301.00 241.00,297.90" stroke-width="1.2" fill="#fff" />
<polyline points="243.00,247.00 243.00,295.00" stroke-width="1.0" fill="none" />
<polygon points="249.30,236.50 260.20,231.10 262.60,231.70 262.60,240.10 269.20,237.00 269.20,227.50 265.60,226.90 277.00,221.50 279.40,222.00 279.40,300.30 251.70,315.30 251.70,301.00" stroke-width="1.3" fill="#fff" />
<line x1="252" y1="237" x2="252" y2="315" stroke-width="1.1"/>
<line x1="277" y1="222" x2="277" y2="229" stroke-width="1.0"/>
<polyline points="252.80,250.50 279.00,240.90" stroke-width="2.4" fill="none" />
<polyline points="252.80,253.20 279.00,243.60" stroke-width="1.0" fill="none" stroke-dasharray="1.2,1.3"/>
<polyline points="252.80,255.75 279.00,246.15" stroke-width="2.4" fill="none" />
<polyline points="252.80,258.45 279.00,248.85" stroke-width="1.0" fill="none" stroke-dasharray="1.2,1.3"/>
<polyline points="252.80,261.00 279.00,251.40" stroke-width="2.4" fill="none" />
<polyline points="252.80,263.70 279.00,254.10" stroke-width="1.0" fill="none" stroke-dasharray="1.2,1.3"/>
<polyline points="252.80,266.25 279.00,256.65" stroke-width="2.4" fill="none" />
<polyline points="252.80,268.95 279.00,259.35" stroke-width="1.0" fill="none" stroke-dasharray="1.2,1.3"/>
<polyline points="252.80,271.50 279.00,261.90" stroke-width="2.4" fill="none" />
<polyline points="252.80,274.20 279.00,264.60" stroke-width="1.0" fill="none" stroke-dasharray="1.2,1.3"/>
<polyline points="252.80,276.75 279.00,267.15" stroke-width="2.4" fill="none" />
<polyline points="252.80,279.45 279.00,269.85" stroke-width="1.0" fill="none" stroke-dasharray="1.2,1.3"/>
<polyline points="252.80,282.00 279.00,272.40" stroke-width="2.4" fill="none" />
<polyline points="252.80,284.70 279.00,275.10" stroke-width="1.0" fill="none" stroke-dasharray="1.2,1.3"/>
<polyline points="252.80,287.25 279.00,277.65" stroke-width="2.4" fill="none" />
<polyline points="252.80,289.95 279.00,280.35" stroke-width="1.0" fill="none" stroke-dasharray="1.2,1.3"/>
<polyline points="252.80,292.50 279.00,282.90" stroke-width="2.4" fill="none" />
<polyline points="252.80,295.20 279.00,285.60" stroke-width="1.0" fill="none" stroke-dasharray="1.2,1.3"/>
<line x1="252.8" y1="249" x2="252.8" y2="297" stroke-width="1.6"/>
<polyline points="252.60,297.50 279.40,286.00" stroke-width="1.2" fill="none" />
<ellipse cx="266" cy="301.9" rx="2.8" ry="3.2" stroke-width="1.2" fill="#fff"/>
<g transform="translate(369.5,345.9) scale(1.0)">
<path d="M-5,0.5 L4.5,0.5 L8.5,5 L8.5,11 L5,13.8 L-5,13.8 L-8.5,11 L-8.5,5 Z" stroke-width="2.2" fill="#fff" />
<path d="M-6,3 L-2,2 L3,2 L6.5,4 M-6,7.5 L6.5,7.5 M-3,2 L-4.5,7.5 M3,2 L5,7.5" stroke-width="1.6" fill="none" />
<path d="M-7.5,10.5 Q0,13 7.5,10.5" stroke-width="2.6" fill="none" />
<path d="M-5.2,6 L-2,4.5 L2,4.5 L4.5,6" stroke-width="1.8" fill="none" />
<path d="M-3.9,13.8 L-3.9,28.8 Q0,31.6 3.9,28.8 L3.9,13.8" stroke-width="1.9" fill="#fff" />
<path d="M-3.9,16.5 Q0,18.1 3.9,16.5" stroke-width="1.7" fill="none" />
<path d="M-3.9,19.6 Q0,21.200000000000003 3.9,19.6" stroke-width="1.7" fill="none" />
<path d="M-3.9,22.7 Q0,24.3 3.9,22.7" stroke-width="1.7" fill="none" />
<path d="M-3.9,25.8 Q0,27.400000000000002 3.9,25.8" stroke-width="1.7" fill="none" />
<path d="M-3.9,28.9 Q0,30.5 3.9,28.9" stroke-width="1.7" fill="none" />
</g>
<line x1="369.6" y1="384" x2="369.6" y2="441" stroke-width="1"/>
<path d="M273.5,420.7 L317.3,420.7 M273.5,431 L317.3,431" stroke-width="1.2" fill="none" />
<path d="M273.5,420.7 Q270,423 273,425.5 Q270,428 273.5,431" stroke-width="1.1" fill="none" />
<path d="M266.6,420.7 Q263,423 266,425.5 Q263,428 266.6,431" stroke-width="1.1" fill="none" />
<path d="M266.6,420.7 L250,420.7 Q217,420.7 216,452 L215.7,499" stroke-width="1.3" fill="none" />
<path d="M266.6,431 L252,431 Q228,431 227.6,458 L227.6,499" stroke-width="1.3" fill="none" />
<polygon points="317.30,420.40 328.80,420.40 328.80,431.40 317.30,431.40" stroke-width="1.2" fill="#fff" />
<polygon points="330.20,434.20 347.60,444.30 387.50,444.30 387.50,442.40 384.80,436.50 330.20,434.20" stroke-width="1.2" fill="#fff" />
<polygon points="328.80,410.30 344.40,401.60 346.20,399.30 380.70,397.00 380.70,436.00 344.40,436.00 330.20,434.20 328.80,442.40 347.60,453.00 387.50,453.00 387.50,444.30 347.60,444.30 328.80,434.00" stroke-width="1.3" fill="#fff" />
<polygon points="330.20,434.20 347.60,444.30 387.50,444.30 387.50,440.00 384.80,436.50 330.20,436.00" stroke-width="1.2" fill="#fff" />
<line x1="347.6" y1="444.3" x2="347.6" y2="453" stroke-width="1.2"/>
<line x1="328.8" y1="410.3" x2="328.8" y2="442.4" stroke-width="1.4"/>
<polygon points="344.40,402.00 380.70,402.00 380.70,436.00 344.40,436.00" stroke-width="1.2" fill="#fff" />
<line x1="344.4" y1="402" x2="344.4" y2="436" stroke-width="2.2"/>
<polyline points="346.20,399.30 360.00,399.30 365.50,396.00 373.80,396.00 376.00,397.00 380.70,397.00 380.70,402.00" stroke-width="1.2" fill="none" />
<line x1="346" y1="415.4" x2="378" y2="415.4" stroke-width="1.0"/>
<line x1="346" y1="417.6" x2="378" y2="417.6" stroke-width="2.0"/>
<line x1="346" y1="424.5" x2="378" y2="424.5" stroke-width="1.0"/>
<line x1="329" y1="425.5" x2="342" y2="425.5" stroke-width="2.2"/>
<line x1="329" y1="420" x2="344" y2="420" stroke-width="1"/>
<polygon points="380.70,399.30 387.50,399.30 387.50,412.00 385.00,415.80 380.70,415.80" stroke-width="1.2" fill="#fff" />
<polygon points="380.70,418.00 383.00,418.00 383.00,435.00 380.70,435.00" stroke-width="1.1" fill="#fff" />
<line x1="369.6" y1="384" x2="369.6" y2="441" stroke-width="1"/>
<ellipse cx="369.6" cy="441" rx="4" ry="2.5" stroke-width="1.2" fill="#fff"/>
<polyline points="365.00,444.30 365.00,453.00 373.80,453.00 373.80,444.30" stroke-width="1.1" fill="none" />
<ellipse cx="370" cy="399.5" rx="3" ry="2" stroke-width="1.1" fill="none"/>
<path d="M211.5,521 Q205.5,527 207.5,531 L214.5,539 L216,521 Z" stroke-width="1.2" fill="#fff" />
<polygon points="211.30,507.30 214.50,504.00 228.50,504.00 231.80,507.30 231.80,523.00 226.00,528.00 216.00,541.40 214.50,541.40 214.50,538.00 211.30,521.00" stroke-width="1.3" fill="#fff" />
<polygon points="214.50,498.80 228.50,498.80 228.50,504.00 214.50,504.00" stroke-width="1.3" fill="#fff" />
<line x1="216.5" y1="501.8" x2="227" y2="501.8" stroke-width="2.0"/>
<polygon points="215.70,510.00 223.30,510.00 223.30,541.40 215.70,541.40" stroke-width="1.2" fill="#fff" />
<line x1="223.3" y1="510" x2="223.3" y2="541.4" stroke-width="2.0"/>
<line x1="215.7" y1="514" x2="223.3" y2="514" stroke-width="1.0"/>
<polygon points="226.50,507.00 231.40,507.00 231.40,526.20 226.50,526.20" stroke-width="1.1" fill="#fff" />
<path d="M223.3,527 L232.2,521.8 L252.3,525.4 L249,543 L222.5,540.6 Z" stroke-width="1.3" fill="#fff" />
<line x1="223.3" y1="541" x2="223.3" y2="527" stroke-width="2.0"/>
<ellipse cx="250.5" cy="534.2" rx="2.8" ry="8.6" stroke-width="1.8" fill="#fff"/>
<ellipse cx="250.8" cy="534.2" rx="1.2" ry="5.5" stroke-width="1.0" fill="none"/>
<path d="M253,535.5 L265,538" stroke-width="1.0" fill="none" />
<g transform="translate(267.5,538.2) rotate(8.3) scale(1.0,1)">
<path d="M2,-3.6 L10,-3.6 L10,3.6 L2,3.6 Q-1,0 2,-3.6 Z" stroke-width="1.3" fill="#fff" />
<line x1="5" y1="-3.6" x2="5" y2="3.6" stroke-width="1.0"/>
<path d="M10,-5.5 L33,-6.5 L33,6.5 L10,5.5 Z" stroke-width="1.3" fill="#fff" />
<line x1="12.0" y1="-6" x2="12.0" y2="6" stroke-width="1.5"/>
<line x1="14.4" y1="-6" x2="14.4" y2="6" stroke-width="1.5"/>
<line x1="16.8" y1="-6" x2="16.8" y2="6" stroke-width="1.5"/>
<line x1="19.2" y1="-6" x2="19.2" y2="6" stroke-width="1.5"/>
<line x1="21.6" y1="-6" x2="21.6" y2="6" stroke-width="1.5"/>
<line x1="24.0" y1="-6" x2="24.0" y2="6" stroke-width="1.5"/>
<line x1="26.4" y1="-6" x2="26.4" y2="6" stroke-width="1.5"/>
<line x1="28.8" y1="-6" x2="28.8" y2="6" stroke-width="1.5"/>
<line x1="31.2" y1="-6" x2="31.2" y2="6" stroke-width="1.5"/>
<path d="M33,-7 L41,-7 L41,7 L33,7 Z" stroke-width="1.2" fill="#fff" />
<path d="M40,-12.5 L54,-12.5 L54,12.5 L40,12.5 Q37,0 40,-12.5 Z" stroke-width="1.4" fill="#fff" />
<path d="M54,-11.5 L67,-11.5 Q69,0 67,11.5 L54,12.5 Z" stroke-width="1.4" fill="#fff" />
<path d="M47,-12.5 Q44,0 47,12.5" stroke-width="1.2" fill="none" />
<line x1="40" y1="1" x2="67" y2="1" stroke-width="1.0"/>
<path d="M67,-9.5 L84,-9.5 L84,9.5 L67,9.5 Z" stroke-width="1.3" fill="#fff" />
<path d="M69.0,-9.5 Q70.8,0 69.0,9.5" stroke-width="1.3" fill="none" />
<path d="M71.8,-9.5 Q73.6,0 71.8,9.5" stroke-width="1.3" fill="none" />
<path d="M74.6,-9.5 Q76.39999999999999,0 74.6,9.5" stroke-width="1.3" fill="none" />
<path d="M77.4,-9.5 Q79.2,0 77.4,9.5" stroke-width="1.3" fill="none" />
<path d="M80.2,-9.5 Q82.0,0 80.2,9.5" stroke-width="1.3" fill="none" />
<path d="M83.0,-9.5 Q84.8,0 83.0,9.5" stroke-width="1.3" fill="none" />
<path d="M84,-5.6 L91,-5.6 Q94,0 91,5.6 L84,5.6 Z" stroke-width="1.8" fill="#fff" />
<line x1="87" y1="-5.6" x2="87" y2="5.6" stroke-width="1.6"/>
<line x1="84" y1="0" x2="92" y2="0" stroke-width="1.2"/>
</g>
<path d="M327.5,640 L334,636.5 L341.5,639.5 L341.5,647.5 L335,651 L327.5,648 Z" stroke-width="1.3" fill="#fff" />
<path d="M327.5,640 L335,643.5 L341.5,639.5 M335,643.5 L335,651" stroke-width="1.1" fill="none" />
<path d="M332,645 L336,644 M334,644 L334,648" stroke-width="1.0" fill="none" />
<path d="M341.5,642 Q347,637 352,638.5 Q359,640 358.5,650 Q357,663 345,671 L327,680 L328.5,682.5 L347,674 Q360,666 361.5,652 Q362,640 354,637 Q347,635.5 341.5,646" stroke-width="1.2" fill="#fff" />
<g transform="translate(587.3,515) scale(1.0)">
<path d="M-5,0.5 L4.5,0.5 L8.5,5 L8.5,11 L5,13.8 L-5,13.8 L-8.5,11 L-8.5,5 Z" stroke-width="2.2" fill="#fff" />
<path d="M-6,3 L-2,2 L3,2 L6.5,4 M-6,7.5 L6.5,7.5 M-3,2 L-4.5,7.5 M3,2 L5,7.5" stroke-width="1.6" fill="none" />
<path d="M-7.5,10.5 Q0,13 7.5,10.5" stroke-width="2.6" fill="none" />
<path d="M-5.2,6 L-2,4.5 L2,4.5 L4.5,6" stroke-width="1.8" fill="none" />
<path d="M-3.9,13.8 L-3.9,28.3 Q0,31.1 3.9,28.3 L3.9,13.8" stroke-width="1.9" fill="#fff" />
<path d="M-3.9,16.5 Q0,18.1 3.9,16.5" stroke-width="1.7" fill="none" />
<path d="M-3.9,19.6 Q0,21.200000000000003 3.9,19.6" stroke-width="1.7" fill="none" />
<path d="M-3.9,22.7 Q0,24.3 3.9,22.7" stroke-width="1.7" fill="none" />
<path d="M-3.9,25.8 Q0,27.400000000000002 3.9,25.8" stroke-width="1.7" fill="none" />
<path d="M-3.9,28.9 Q0,30.5 3.9,28.9" stroke-width="1.7" fill="none" />
</g>
<line x1="587.8" y1="549.6" x2="587.8" y2="581" stroke-width="1"/>
<polygon points="509.80,578.00 513.80,570.70 529.30,573.50 529.30,596.50 578.60,596.50 578.60,572.00 593.00,570.70 593.00,603.40 573.50,613.70 533.30,613.70 513.80,602.20 509.80,593.00" stroke-width="1.3" fill="#fff" />
<polyline points="513.80,594.20 533.30,604.00 573.50,604.00 593.00,593.00" stroke-width="1.2" fill="none" />
<line x1="533.3" y1="604" x2="533.3" y2="613.7" stroke-width="1.2"/>
<line x1="573.5" y1="604" x2="573.5" y2="613.7" stroke-width="1.2"/>
<line x1="513.8" y1="594.2" x2="513.8" y2="602.2" stroke-width="1.6"/>
<ellipse cx="516" cy="581" rx="4" ry="3" stroke-width="1.2" fill="#fff"/>
<ellipse cx="587.3" cy="581" rx="4" ry="3" stroke-width="1.2" fill="#fff"/>
<polygon points="529.30,563.80 552.20,563.80 556.30,558.60 562.60,558.60 578.60,564.40 578.60,596.50 529.30,596.50" stroke-width="1.3" fill="#fff" />
<polyline points="556.30,558.60 556.30,580.40 578.60,584.40" stroke-width="1.2" fill="none" />
<polyline points="556.30,580.40 553.40,583.30 532.10,595.30" stroke-width="1.2" fill="none" />
<line x1="543.6" y1="568.4" x2="543.6" y2="584.4" stroke-width="1.2"/>
<line x1="532" y1="568" x2="532" y2="596" stroke-width="2.0"/>
<path d="M531,585 L540,570 M533,578 L541,575" stroke-width="1.4" fill="none" />
<polygon points="547.00,596.50 547.00,617.20 560.30,617.20 560.30,596.50" stroke-width="1.2" fill="#fff" />
<line x1="540" y1="593" x2="547" y2="600" stroke-width="1.0"/>
<line x1="567" y1="593" x2="560.3" y2="600" stroke-width="1.0"/>
<polygon points="525.80,613.70 537.30,613.70 537.30,640.70 525.80,640.70" stroke-width="1.2" fill="#fff" />
<path d="M525.8,617.7 Q531.5,621 537.3,617.7 M525.8,624.6 Q531.5,628 537.3,624.6" stroke-width="1.1" fill="none" />
<ellipse cx="528.5" cy="639" rx="2.5" ry="2.5" stroke-width="1.0" fill="none"/>
<ellipse cx="534" cy="639" rx="2.5" ry="2.5" stroke-width="1.0" fill="none"/>
<polyline points="526.30,649.00 526.30,697.50 537.50,697.50 537.50,649.00" stroke-width="1.3" fill="#fff" />
<ellipse cx="529.5" cy="649" rx="3" ry="2.5" stroke-width="1.0" fill="none"/>
<ellipse cx="535" cy="649" rx="3" ry="2.5" stroke-width="1.0" fill="none"/>
<path d="M530,660 L534,661" stroke-width="1.0" fill="none" />
<polygon points="525.50,697.50 538.50,697.50 540.00,700.00 540.00,705.00 524.00,705.00 524.00,700.00" stroke-width="1.2" fill="#fff" />
<path d="M514.4,710 Q511,716 515,722.5 L521,724 L521,705 Z" stroke-width="1.2" fill="#fff" />
<polygon points="521.00,704.00 543.00,704.00 543.00,727.00 521.00,727.00" stroke-width="1.3" fill="#fff" />
<ellipse cx="532.5" cy="731.3" rx="11" ry="8.5" stroke-width="1.3" fill="#fff"/>
<polygon points="530.00,708.00 538.00,708.00 538.00,726.00 530.00,726.00" stroke-width="1.4" fill="#fff" />
<g transform="translate(505.5,673.5) rotate(238.4) scale(0.69,1)">
<path d="M1,-4 L10,-4 L10,4 L1,4 Q-2,0 1,-4 Z" stroke-width="1.5" fill="#fff" />
<path d="M4,-4 Q7,0 4,4" stroke-width="1.3" fill="none" />
<path d="M10,-6 L40,-7.5 L40,7.5 L10,6 Z" stroke-width="1.5" fill="#fff" />
<path d="M12.0,-6.5 Q14.5,0 12.0,6.5" stroke-width="1.8" fill="none" />
<path d="M15.1,-6.5 Q17.6,0 15.1,6.5" stroke-width="1.8" fill="none" />
<path d="M18.2,-6.5 Q20.7,0 18.2,6.5" stroke-width="1.8" fill="none" />
<path d="M21.3,-6.5 Q23.8,0 21.3,6.5" stroke-width="1.8" fill="none" />
<path d="M24.4,-6.5 Q26.9,0 24.4,6.5" stroke-width="1.8" fill="none" />
<path d="M27.5,-6.5 Q30.0,0 27.5,6.5" stroke-width="1.8" fill="none" />
<path d="M30.6,-6.5 Q33.1,0 30.6,6.5" stroke-width="1.8" fill="none" />
<path d="M33.7,-6.5 Q36.2,0 33.7,6.5" stroke-width="1.8" fill="none" />
<path d="M36.8,-6.5 Q39.3,0 36.8,6.5" stroke-width="1.8" fill="none" />
<path d="M40,-12.5 L66,-12.5 Q72,0 66,12.5 L40,12.5 Q43,0 40,-12.5 Z" stroke-width="1.6" fill="#fff" />
<path d="M48,-12.5 Q54,0 48,12.5 M57,-12.5 Q63,0 57,12.5" stroke-width="1.4" fill="none" />
<path d="M67,-8.5 L82,-8.5 Q93,-7 93,0 Q93,7 82,8.5 L67,8.5 Q71,0 67,-8.5 Z" stroke-width="2.0" fill="#fff" />
<path d="M72,-8 Q78,0 72,8" stroke-width="1.6" fill="none" />
<path d="M77,-8 Q83,0 77,8" stroke-width="1.6" fill="none" />
<path d="M82,-8 Q88,0 82,8" stroke-width="1.6" fill="none" />
</g>
<path d="M503.8,673.8 L517.5,697.5" stroke-width="1.0" fill="none" />
<path d="M214,764 L228,764.5 Q250,772 290,789 L325,807.5 Q338,812 355,803" stroke-width="4.4" stroke="#000" fill="none" stroke-linecap="butt"/>
<path d="M214,764 L228,764.5 Q250,772 290,789 L325,807.5 Q338,812 355,803" stroke-width="2.2" stroke="#fff" fill="none" stroke-linecap="butt"/>
<path d="M297.2,770.3 L297.2,719.6 Q296,699 276,692.5 Q262,690 245,700 L200,726 Q184,737 190,750 Q196,760 214,764" stroke-width="4.6" stroke="#000" fill="none" stroke-linecap="butt"/>
<path d="M297.2,770.3 L297.2,719.6 Q296,699 276,692.5 Q262,690 245,700 L200,726 Q184,737 190,750 Q196,760 214,764" stroke-width="2.4" stroke="#fff" fill="none" stroke-linecap="butt"/>
<path d="M297.2,778.4 L297.2,824" stroke-width="5.4" stroke="#000" fill="none" stroke-linecap="butt"/>
<path d="M297.2,778.4 L297.2,824" stroke-width="3.2" stroke="#fff" fill="none" stroke-linecap="butt"/>
<path d="M295.5,770.3 L299,770.3 M294.6,778.4 L299.8,778.4" stroke-width="1.3" fill="none" />
<path d="M222.8,763 Q206,759 208.5,745 Q211,737 220,733 L236,728.5" stroke-width="4.4" stroke="#000" fill="none" stroke-linecap="butt"/>
<path d="M222.8,763 Q206,759 208.5,745 Q211,737 220,733 L236,728.5" stroke-width="2.2" stroke="#fff" fill="none" stroke-linecap="butt"/>
<path d="M232,731.5 L234,726 L240,723.5 L243,728 L241,733 L235,735 Z" stroke-width="1.3" fill="#fff" />
<path d="M240,724 L253,715.5 Q259.5,714 260,719 L244,731" stroke-width="1.3" fill="#fff" />
<line x1="245" y1="726" x2="256" y2="719" stroke-width="1.0"/>
<path d="M353,804.5 L355,798.5 L362,795.5 L366,800.5 L364,806 L356,808 Z" stroke-width="1.3" fill="#fff" />
<path d="M364,797 L376,788.5 Q382,786 385,790 Q386,794 382,796 L367,804" stroke-width="1.4" fill="#fff" />
<line x1="369" y1="798" x2="381" y2="791" stroke-width="1.2"/>
<polygon points="295.50,824.00 300.50,824.00 300.50,846.00 295.50,846.00" stroke-width="1.2" fill="#fff" />
<line x1="295.5" y1="832" x2="300.5" y2="832" stroke-width="1.0"/>
<line x1="295.5" y1="836" x2="300.5" y2="836" stroke-width="1.4"/>
<path d="M292.2,847 L301.5,847 L301.5,864 Q296.8,867.5 292.2,864 Z" stroke-width="1.3" fill="#fff" />
<ellipse cx="296.8" cy="847" rx="4.65" ry="1.8" stroke-width="1.1" fill="#fff"/>
<path d="M282.5,838 L282.5,812.6 Q281,797 266,795 Q257,794.5 248,799 L203,822 Q189.5,830 189.5,845 L189.5,858 Q190,869 200,876 L277.8,922" stroke-width="4.6" stroke="#000" fill="none" stroke-linecap="butt"/>
<path d="M282.5,838 L282.5,812.6 Q281,797 266,795 Q257,794.5 248,799 L203,822 Q189.5,830 189.5,845 L189.5,858 Q190,869 200,876 L277.8,922" stroke-width="2.4" stroke="#fff" fill="none" stroke-linecap="butt"/>
<path d="M282.5,845.5 L282.5,874.4" stroke-width="4.6" stroke="#000" fill="none" stroke-linecap="butt"/>
<path d="M282.5,845.5 L282.5,874.4" stroke-width="2.4" stroke="#fff" fill="none" stroke-linecap="butt"/>
<path d="M280,920 L268,905 Q264.5,895 265,880 L265,865" stroke-width="4.4" stroke="#000" fill="none" stroke-linecap="butt"/>
<path d="M280,920 L268,905 Q264.5,895 265,880 L265,865" stroke-width="2.2" stroke="#fff" fill="none" stroke-linecap="butt"/>
<path d="M259.3,840 Q259.3,834 264.5,834 Q270.8,834 270.8,840 Q270.8,845 267.5,848 L267,853 L262.5,853 L262,848 Q259.3,845 259.3,840 Z" stroke-width="1.4" fill="#fff" />
<ellipse cx="264.8" cy="840.3" rx="2.3" ry="3.3" stroke-width="1.1" fill="none"/>
<polygon points="261.50,853.00 269.00,853.00 269.00,865.00 261.50,865.00" stroke-width="1.2" fill="#fff" />
<line x1="261.5" y1="857.5" x2="269" y2="857.5" stroke-width="1.2"/>
<polygon points="279.50,874.40 286.00,874.40 286.00,891.00 279.50,891.00" stroke-width="1.3" fill="#fff" />
<path d="M280,891 L285.5,891 L285.5,899 Q282.75,903 280,899 Z" stroke-width="1.3" fill="#fff" />
<line x1="279.5" y1="876" x2="286" y2="876" stroke-width="2.0"/>
<line x1="279.5" y1="881" x2="286" y2="881" stroke-width="1.2"/>
<line x1="279.5" y1="886" x2="286" y2="886" stroke-width="1.2"/>
<line x1="280" y1="895" x2="285.5" y2="895" stroke-width="1.2"/>
<polygon points="277.80,920.70 296.30,930.20 302.60,924.70 284.70,915.50" stroke-width="1.3" fill="#fff" />
<polygon points="277.80,920.70 296.30,930.20 296.30,937.00 277.80,927.60" stroke-width="1.3" fill="#fff" />
<polygon points="296.30,930.20 302.60,924.70 302.60,932.00 296.30,937.00" stroke-width="1.3" fill="#fff" />
<polygon points="298.00,929.50 301.00,927.00 301.00,931.50 298.00,934.00" stroke-width="1.0" fill="#fff" />
<path d="M499,752 Q499,745.4 507,745.4 Q514.6,745.4 514.6,752 L514.6,755 L499,755 Z" stroke-width="1.5" fill="#fff" />
<path d="M502,750 Q506,747 511,749" stroke-width="1.3" fill="none" />
<path d="M504,755 L504,772 L510,772 L510,755" stroke-width="1.3" fill="#fff" />
<line x1="504" y1="758" x2="510" y2="758" stroke-width="1.0"/>
<line x1="504" y1="761" x2="510" y2="761" stroke-width="1.0"/>
<line x1="504" y1="764" x2="510" y2="764" stroke-width="1.0"/>
<line x1="504" y1="767" x2="510" y2="767" stroke-width="1.0"/>
<line x1="504" y1="770" x2="510" y2="770" stroke-width="1.0"/>
<line x1="507" y1="778.8" x2="507" y2="822" stroke-width="1.0"/>
<path d="M611,946.5 L616,943 L623,943.5 L627,948 L627,955 L622.5,959.6 L615,959.6 L611,955 Z" stroke-width="1.2" fill="#000" />
<path d="M619,949 L623,951 L621,955 L617,954 Z" stroke-width="1.0" fill="#fff" stroke="#fff"/>
<polygon points="568.67,789.45 568.10,793.08 568.10,808.08 568.67,804.45" stroke-width="1.2" fill="#fff" />
<polygon points="568.10,793.08 550.97,792.24 550.97,807.24 568.10,808.08" stroke-width="1.2" fill="#fff" />
<polygon points="550.97,792.24 551.54,788.61 568.67,789.45 568.10,793.08" stroke-width="1.2" fill="#fff" />
<polygon points="563.81,792.31 561.54,806.81 561.54,821.81 563.81,807.31" stroke-width="1.2" fill="#fff" />
<polygon points="561.54,806.81 553.17,806.40 553.17,821.40 561.54,821.81" stroke-width="1.2" fill="#fff" />
<polygon points="553.17,806.40 555.44,791.90 563.81,792.31 561.54,806.81" stroke-width="1.2" fill="#fff" />
<polygon points="525.28,795.18 523.60,791.66 523.60,806.66 525.28,810.18" stroke-width="1.2" fill="#fff" />
<polygon points="541.90,792.68 525.28,795.18 525.28,810.18 541.90,807.68" stroke-width="1.2" fill="#fff" />
<polygon points="525.28,795.18 523.60,791.66 540.21,789.17 541.90,792.68" stroke-width="1.2" fill="#fff" />
<polygon points="536.00,808.06 529.27,794.00 529.27,809.00 536.00,823.06" stroke-width="1.2" fill="#fff" />
<polygon points="544.12,806.85 536.00,808.06 536.00,823.06 544.12,821.85" stroke-width="1.2" fill="#fff" />
<polygon points="536.00,808.06 529.27,794.00 537.39,792.78 544.12,806.85" stroke-width="1.2" fill="#fff" />
<polygon points="592.49,798.47 576.90,794.40 576.90,809.40 592.49,813.47" stroke-width="1.2" fill="#fff" />
<polygon points="595.24,795.17 592.49,798.47 592.49,813.47 595.24,810.17" stroke-width="1.2" fill="#fff" />
<polygon points="576.90,794.40 579.65,791.10 595.24,795.17 592.49,798.47" stroke-width="1.2" fill="#fff" />
<polygon points="588.93,796.92 577.94,810.12 577.94,825.12 588.93,811.92" stroke-width="1.2" fill="#fff" />
<polygon points="577.94,810.12 570.32,808.13 570.32,823.13 577.94,825.12" stroke-width="1.2" fill="#fff" />
<polygon points="570.32,808.13 581.31,794.93 588.93,796.92 577.94,810.12" stroke-width="1.2" fill="#fff" />
<polygon points="517.03,797.33 502.94,802.86 502.94,817.86 517.03,812.33" stroke-width="1.2" fill="#fff" />
<polygon points="502.94,802.86 499.21,799.88 499.21,814.88 502.94,817.86" stroke-width="1.2" fill="#fff" />
<polygon points="502.94,802.86 499.21,799.88 513.30,794.35 517.03,797.33" stroke-width="1.2" fill="#fff" />
<polygon points="520.88,812.91 505.97,800.99 505.97,815.99 520.88,827.91" stroke-width="1.2" fill="#fff" />
<polygon points="527.76,810.21 520.88,812.91 520.88,827.91 527.76,825.21" stroke-width="1.2" fill="#fff" />
<polygon points="520.88,812.91 505.97,800.99 512.85,798.29 527.76,810.21" stroke-width="1.2" fill="#fff" />
<polygon points="612.11,808.21 599.95,801.40 599.95,816.40 612.11,823.21" stroke-width="1.2" fill="#fff" />
<polygon points="616.71,805.63 612.11,808.21 612.11,823.21 616.71,820.63" stroke-width="1.2" fill="#fff" />
<polygon points="599.95,801.40 604.55,798.82 616.71,805.63 612.11,808.21" stroke-width="1.2" fill="#fff" />
<polygon points="609.71,806.07 591.33,816.36 591.33,831.36 609.71,821.07" stroke-width="1.2" fill="#fff" />
<polygon points="591.33,816.36 585.39,813.04 585.39,828.04 591.33,831.36" stroke-width="1.2" fill="#fff" />
<polygon points="585.39,813.04 603.77,802.74 609.71,806.07 591.33,816.36" stroke-width="1.2" fill="#fff" />
<polygon points="496.50,806.46 486.63,814.35 486.63,829.35 496.50,821.46" stroke-width="1.2" fill="#fff" />
<polygon points="486.63,814.35 481.31,812.27 481.31,827.27 486.63,829.35" stroke-width="1.2" fill="#fff" />
<polygon points="486.63,814.35 481.31,812.27 491.17,804.38 496.50,806.46" stroke-width="1.2" fill="#fff" />
<polygon points="509.63,820.37 488.34,812.02 488.34,827.02 509.63,835.37" stroke-width="1.2" fill="#fff" />
<polygon points="514.45,816.51 509.63,820.37 509.63,835.37 514.45,831.51" stroke-width="1.2" fill="#fff" />
<polygon points="509.63,820.37 488.34,812.02 493.15,808.16 514.45,816.51" stroke-width="1.2" fill="#fff" />
<polygon points="624.61,821.11 617.34,812.39 617.34,827.39 624.61,836.11" stroke-width="1.2" fill="#fff" />
<polygon points="630.50,819.58 624.61,821.11 624.61,836.11 630.50,834.58" stroke-width="1.2" fill="#fff" />
<polygon points="617.34,812.39 623.23,810.85 630.50,819.58 624.61,821.11" stroke-width="1.2" fill="#fff" />
<polygon points="623.65,818.65 600.09,824.80 600.09,839.80 623.65,833.65" stroke-width="1.2" fill="#fff" />
<polygon points="600.09,824.80 596.54,820.54 596.54,835.54 600.09,839.80" stroke-width="1.2" fill="#fff" />
<polygon points="596.54,820.54 620.10,814.38 623.65,818.65 600.09,824.80" stroke-width="1.2" fill="#fff" />
<polygon points="482.78,818.98 478.33,828.28 478.33,843.28 482.78,833.98" stroke-width="1.2" fill="#fff" />
<polygon points="478.33,828.28 472.05,827.34 472.05,842.34 478.33,843.28" stroke-width="1.2" fill="#fff" />
<polygon points="478.33,828.28 472.05,827.34 476.50,818.04 482.78,818.98" stroke-width="1.2" fill="#fff" />
<polygon points="505.79,824.98 503.62,829.52 503.62,844.52 505.79,839.98" stroke-width="1.2" fill="#fff" />
<polygon points="503.62,829.52 478.50,825.76 478.50,840.76 503.62,844.52" stroke-width="1.2" fill="#fff" />
<polygon points="503.62,829.52 478.50,825.76 480.68,821.21 505.79,824.98" stroke-width="1.2" fill="#fff" />
<polygon points="628.46,835.64 626.97,826.04 626.97,841.04 628.46,850.64" stroke-width="1.2" fill="#fff" />
<polygon points="634.94,835.32 628.46,835.64 628.46,850.64 634.94,850.32" stroke-width="1.2" fill="#fff" />
<polygon points="626.97,826.04 633.44,825.72 634.94,835.32 628.46,835.64" stroke-width="1.2" fill="#fff" />
<polygon points="603.18,834.40 602.44,829.72 602.44,844.72 603.18,849.40" stroke-width="1.2" fill="#fff" />
<polygon points="629.08,833.13 603.18,834.40 603.18,849.40 629.08,848.13" stroke-width="1.2" fill="#fff" />
<polygon points="602.44,829.72 628.34,828.45 629.08,833.13 603.18,834.40" stroke-width="1.2" fill="#fff" />
<polygon points="608.00,834.50 607.92,836.11 607.70,837.72 607.32,839.32 606.80,840.90 606.13,842.47 605.31,844.02 604.35,845.54 603.25,847.03 602.01,848.48 600.63,849.90 599.13,851.27 597.50,852.60 595.74,853.88 593.87,855.11 591.89,856.28 589.80,857.39 587.61,858.44 585.33,859.42 582.96,860.33 580.50,861.17 577.97,861.94 575.37,862.64 572.71,863.25 570.00,863.79 567.24,864.25 564.44,864.63 561.60,864.92 558.75,865.13 555.88,865.26 553.00,865.30 550.12,865.26 547.25,865.13 544.40,864.92 541.56,864.63 538.76,864.25 536.00,863.79 533.29,863.25 530.63,862.64 528.03,861.94 525.50,861.17 523.04,860.33 520.67,859.42 518.39,858.44 516.20,857.39 514.11,856.28 512.13,855.11 510.26,853.88 508.50,852.60 506.87,851.27 505.37,849.90 503.99,848.48 502.75,847.03 501.65,845.54 500.69,844.02 499.87,842.47 499.20,840.90 498.68,839.32 498.30,837.72 498.08,836.11 498.00,834.50 498.00,849.50 498.08,851.11 498.30,852.72 498.68,854.32 499.20,855.90 499.87,857.47 500.69,859.02 501.65,860.54 502.75,862.03 503.99,863.48 505.37,864.90 506.87,866.27 508.50,867.60 510.26,868.88 512.13,870.11 514.11,871.28 516.20,872.39 518.39,873.44 520.67,874.42 523.04,875.33 525.50,876.17 528.03,876.94 530.63,877.64 533.29,878.25 536.00,878.79 538.76,879.25 541.56,879.63 544.40,879.92 547.25,880.13 550.12,880.26 553.00,880.30 555.88,880.26 558.75,880.13 561.60,879.92 564.44,879.63 567.24,879.25 570.00,878.79 572.71,878.25 575.37,877.64 577.97,876.94 580.50,876.17 582.96,875.33 585.33,874.42 587.61,873.44 589.80,872.39 591.89,871.28 593.87,870.11 595.74,868.88 597.50,867.60 599.13,866.27 600.63,864.90 602.01,863.48 603.25,862.03 604.35,860.54 605.31,859.02 606.13,857.47 606.80,855.90 607.32,854.32 607.70,852.72 607.92,851.11 608.00,849.50" stroke-width="1.2" fill="#fff" />
<ellipse cx="553.0" cy="834.5" rx="55" ry="30.800000000000004" stroke-width="1.3" fill="#fff"/>
<ellipse cx="552.7" cy="838.5" rx="40.3" ry="21.3" stroke-width="1.3" fill="#fff"/>
<polyline points="514.06,838.19 514.82,836.91 515.74,835.65 516.83,834.43 518.06,833.25 519.44,832.11 520.97,831.02 522.63,829.98 524.42,829.00 526.33,828.09 528.35,827.24 530.48,826.45 532.70,825.75 535.01,825.11 537.39,824.56 539.84,824.09 542.35,823.70 544.90,823.39 547.48,823.18 550.08,823.04 552.70,823.00 555.32,823.04 557.92,823.18 560.50,823.39 563.05,823.70 565.56,824.09 568.01,824.56 570.39,825.11 572.70,825.75 574.92,826.45 577.05,827.24 579.07,828.09 580.98,829.00 582.77,829.98 584.43,831.02 585.96,832.11 587.34,833.25 588.57,834.43 589.66,835.65 590.58,836.91 591.34,838.19" stroke-width="1.2" fill="none" />
<polyline points="515.11,834.39 516.02,833.21 517.06,832.06 518.23,830.94 519.54,829.87 520.97,828.84 522.51,827.85 524.17,826.92 525.93,826.04 527.80,825.22 529.76,824.46 531.80,823.77 533.92,823.13 536.11,822.57 538.37,822.08 540.67,821.66 543.02,821.32 545.41,821.05 547.83,820.86 550.26,820.74 552.70,820.70 555.14,820.74 557.57,820.86 559.99,821.05 562.38,821.32 564.73,821.66 567.03,822.08 569.29,822.57 571.48,823.13 573.60,823.77 575.64,824.46 577.60,825.22 579.47,826.04 581.23,826.92 582.89,827.85 584.43,828.84 585.86,829.87 587.17,830.94 588.34,832.06 589.38,833.21 590.29,834.39" stroke-width="1.0" fill="none" />
<ellipse cx="525" cy="812" rx="3.5" ry="2.3" stroke-width="1.1" fill="none"/>
<ellipse cx="568" cy="806" rx="2.5" ry="1.8" stroke-width="1.1" fill="none"/>
<ellipse cx="580" cy="808" rx="3.5" ry="2.3" stroke-width="1.1" fill="none"/>
<ellipse cx="597" cy="818" rx="2.5" ry="1.8" stroke-width="1.1" fill="none"/>
<ellipse cx="602" cy="832" rx="3.5" ry="2.3" stroke-width="1.1" fill="none"/>
<ellipse cx="600" cy="846" rx="3.5" ry="2.3" stroke-width="1.1" fill="none"/>
<ellipse cx="584" cy="860" rx="2.3" ry="1.7" stroke-width="1.1" fill="none"/>
<ellipse cx="565" cy="863" rx="3.5" ry="2.3" stroke-width="1.1" fill="none"/>
<ellipse cx="525" cy="861" rx="3.5" ry="2.3" stroke-width="1.1" fill="none"/>
<ellipse cx="503" cy="843" rx="3" ry="2" stroke-width="1.1" fill="none"/>
<ellipse cx="504" cy="826" rx="3" ry="2" stroke-width="1.1" fill="none"/>
<ellipse cx="515" cy="858" rx="2" ry="1.5" stroke-width="1.1" fill="none"/>
<polyline points="504.40,876.00 504.40,913.60 511.60,913.60 511.60,876.00" stroke-width="1.2" fill="#fff" />
<path d="M504.4,916.2 L504.4,935.5 Q508,938 511.6,935.5 L511.6,916.2 Q508,913.8 504.4,916.2 Z" stroke-width="1.2" fill="#fff" />
<path d="M505.5,936 L504,955 M509,937 L507,953 M510.5,937 L513.6,951.3 M507.5,937 L510,952" stroke-width="1.2" fill="none" />
<path d="M498.3,954.4 L510,948.5 L517.8,951.5 L517.8,969.6 L504.4,976.3 L498.3,973.7 Z" stroke-width="1.3" fill="#fff" />
<polyline points="498.30,954.40 504.40,957.50 517.80,951.50" stroke-width="1.2" fill="none" />
<line x1="504.4" y1="957.5" x2="504.4" y2="976.3" stroke-width="1.2"/>
<polygon points="477.66,840.55 476.92,835.87 476.92,850.87 477.66,855.55" stroke-width="1.2" fill="#fff" />
<polygon points="503.56,839.28 477.66,840.55 477.66,855.55 503.56,854.28" stroke-width="1.2" fill="#fff" />
<polygon points="503.56,839.28 477.66,840.55 476.92,835.87 502.82,834.60" stroke-width="1.2" fill="#fff" />
<polygon points="472.56,843.28 471.06,833.68 471.06,848.68 472.56,858.28" stroke-width="1.2" fill="#fff" />
<polygon points="479.03,842.96 472.56,843.28 472.56,858.28 479.03,857.96" stroke-width="1.2" fill="#fff" />
<polygon points="479.03,842.96 472.56,843.28 471.06,833.68 477.54,833.36" stroke-width="1.2" fill="#fff" />
<polygon points="627.50,843.24 625.32,847.79 625.32,862.79 627.50,858.24" stroke-width="1.2" fill="#fff" />
<polygon points="625.32,847.79 600.21,844.02 600.21,859.02 625.32,862.79" stroke-width="1.2" fill="#fff" />
<polygon points="602.38,839.48 627.50,843.24 625.32,847.79 600.21,844.02" stroke-width="1.2" fill="#fff" />
<polygon points="633.95,841.66 629.50,850.96 629.50,865.96 633.95,856.66" stroke-width="1.2" fill="#fff" />
<polygon points="629.50,850.96 623.22,850.02 623.22,865.02 629.50,865.96" stroke-width="1.2" fill="#fff" />
<polygon points="627.67,840.72 633.95,841.66 629.50,850.96 623.22,850.02" stroke-width="1.2" fill="#fff" />
<polygon points="509.46,848.46 485.90,854.62 485.90,869.62 509.46,863.46" stroke-width="1.2" fill="#fff" />
<polygon points="485.90,854.62 482.35,850.35 482.35,865.35 485.90,869.62" stroke-width="1.2" fill="#fff" />
<polygon points="509.46,848.46 485.90,854.62 482.35,850.35 505.91,844.20" stroke-width="1.2" fill="#fff" />
<polygon points="482.77,858.15 475.50,849.42 475.50,864.42 482.77,873.15" stroke-width="1.2" fill="#fff" />
<polygon points="488.66,856.61 482.77,858.15 482.77,873.15 488.66,871.61" stroke-width="1.2" fill="#fff" />
<polygon points="488.66,856.61 482.77,858.15 475.50,849.42 481.39,847.89" stroke-width="1.2" fill="#fff" />
<polygon points="612.85,860.84 591.55,852.49 591.55,867.49 612.85,875.84" stroke-width="1.2" fill="#fff" />
<polygon points="617.66,856.98 612.85,860.84 612.85,875.84 617.66,871.98" stroke-width="1.2" fill="#fff" />
<polygon points="596.37,848.63 617.66,856.98 612.85,860.84 591.55,852.49" stroke-width="1.2" fill="#fff" />
<polygon points="624.69,856.73 614.83,864.62 614.83,879.62 624.69,871.73" stroke-width="1.2" fill="#fff" />
<polygon points="614.83,864.62 609.50,862.54 609.50,877.54 614.83,879.62" stroke-width="1.2" fill="#fff" />
<polygon points="619.37,854.65 624.69,856.73 614.83,864.62 609.50,862.54" stroke-width="1.2" fill="#fff" />
<polygon points="520.61,855.96 502.23,866.26 502.23,881.26 520.61,870.96" stroke-width="1.2" fill="#fff" />
<polygon points="502.23,866.26 496.29,862.93 496.29,877.93 502.23,881.26" stroke-width="1.2" fill="#fff" />
<polygon points="520.61,855.96 502.23,866.26 496.29,862.93 514.67,852.64" stroke-width="1.2" fill="#fff" />
<polygon points="501.45,870.18 489.29,863.37 489.29,878.37 501.45,885.18" stroke-width="1.2" fill="#fff" />
<polygon points="506.05,867.60 501.45,870.18 501.45,885.18 506.05,882.60" stroke-width="1.2" fill="#fff" />
<polygon points="506.05,867.60 501.45,870.18 489.29,863.37 493.89,860.79" stroke-width="1.2" fill="#fff" />
<polygon points="593.15,870.71 578.24,858.79 578.24,873.79 593.15,885.71" stroke-width="1.2" fill="#fff" />
<polygon points="600.03,868.01 593.15,870.71 593.15,885.71 600.03,883.01" stroke-width="1.2" fill="#fff" />
<polygon points="585.12,856.09 600.03,868.01 593.15,870.71 578.24,858.79" stroke-width="1.2" fill="#fff" />
<polygon points="606.79,869.12 592.70,874.65 592.70,889.65 606.79,884.12" stroke-width="1.2" fill="#fff" />
<polygon points="592.70,874.65 588.97,871.67 588.97,886.67 592.70,889.65" stroke-width="1.2" fill="#fff" />
<polygon points="603.06,866.14 606.79,869.12 592.70,874.65 588.97,871.67" stroke-width="1.2" fill="#fff" />
<polygon points="535.68,860.87 524.69,874.07 524.69,889.07 535.68,875.87" stroke-width="1.2" fill="#fff" />
<polygon points="524.69,874.07 517.07,872.08 517.07,887.08 524.69,889.07" stroke-width="1.2" fill="#fff" />
<polygon points="535.68,860.87 524.69,874.07 517.07,872.08 528.06,858.88" stroke-width="1.2" fill="#fff" />
<polygon points="526.35,877.90 510.76,873.83 510.76,888.83 526.35,892.90" stroke-width="1.2" fill="#fff" />
<polygon points="529.10,874.60 526.35,877.90 526.35,892.90 529.10,889.60" stroke-width="1.2" fill="#fff" />
<polygon points="529.10,874.60 526.35,877.90 510.76,873.83 513.51,870.53" stroke-width="1.2" fill="#fff" />
<polygon points="568.61,876.22 561.88,862.15 561.88,877.15 568.61,891.22" stroke-width="1.2" fill="#fff" />
<polygon points="576.73,875.00 568.61,876.22 568.61,891.22 576.73,890.00" stroke-width="1.2" fill="#fff" />
<polygon points="570.00,860.94 576.73,875.00 568.61,876.22 561.88,862.15" stroke-width="1.2" fill="#fff" />
<polygon points="565.79,879.83 564.10,876.32 564.10,891.32 565.79,894.83" stroke-width="1.2" fill="#fff" />
<polygon points="582.40,877.34 565.79,879.83 565.79,894.83 582.40,892.34" stroke-width="1.2" fill="#fff" />
<polygon points="580.72,873.82 582.40,877.34 565.79,879.83 564.10,876.32" stroke-width="1.2" fill="#fff" />
<polygon points="552.83,862.60 550.56,877.10 550.56,892.10 552.83,877.60" stroke-width="1.2" fill="#fff" />
<polygon points="550.56,877.10 542.19,876.69 542.19,891.69 550.56,892.10" stroke-width="1.2" fill="#fff" />
<polygon points="552.83,862.60 550.56,877.10 542.19,876.69 544.46,862.19" stroke-width="1.2" fill="#fff" />
<polygon points="555.03,876.76 554.46,880.39 554.46,895.39 555.03,891.76" stroke-width="1.2" fill="#fff" />
<polygon points="554.46,880.39 537.33,879.55 537.33,894.55 554.46,895.39" stroke-width="1.2" fill="#fff" />
<polygon points="555.03,876.76 554.46,880.39 537.33,879.55 537.90,875.92" stroke-width="1.2" fill="#fff" />
<line x1="507" y1="790" x2="507" y2="818" stroke-width="1.0"/>
<path d="M505,817 Q512,806 531,803 L531,812 Q514,815 508,826 Z" stroke-width="1.2" fill="#fff" />
</svg></body></html>
